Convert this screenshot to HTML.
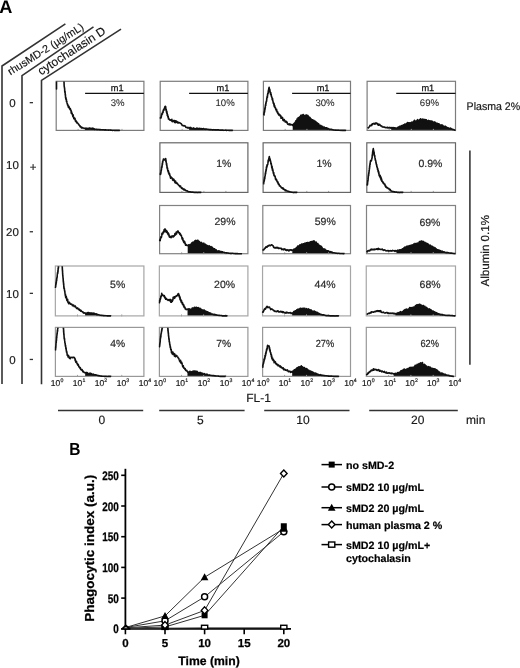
<!DOCTYPE html>
<html><head><meta charset="utf-8"><title>Figure</title>
<style>
html,body{margin:0;padding:0;background:#fff;width:520px;height:668px;overflow:hidden;}
svg{display:block;will-change:transform;}
text{font-family:"Liberation Sans",sans-serif;text-rendering:geometricPrecision;}
</style></head><body>
<svg width="520" height="668" viewBox="0 0 520 668">
<rect width="520" height="668" fill="#fff"/>
<text x="-0.7" y="12.7" font-size="18.2" font-weight="bold" fill="#000">A</text>
<polyline fill="none" stroke="#333" stroke-width="1.6" points="2,384 2,66 65.4,23.8"/>
<polyline fill="none" stroke="#333" stroke-width="1.6" points="22,384 22,75.6 93.5,26.9"/>
<polyline fill="none" stroke="#333" stroke-width="1.6" points="41.5,384.2 41.5,80.4 121,29.2"/>
<text transform="translate(10.5,75.5) rotate(-32.2)" font-size="10.75" fill="#111" stroke="#111" stroke-width="0.15">rhusMD-2 (µg/mL)</text>
<text transform="translate(41,75.6) rotate(-33)" font-size="12" fill="#111" stroke="#111" stroke-width="0.15">cytochalasin D</text>
<text x="12.4" y="106.8" font-size="11.5" text-anchor="middle" fill="#1a1a1a" stroke="#1a1a1a" stroke-width="0.18">0</text>
<rect x="29.7" y="102" width="3.3" height="1.3" fill="#333"/>
<text x="12.4" y="168.8" font-size="11.5" text-anchor="middle" fill="#1a1a1a" stroke="#1a1a1a" stroke-width="0.18">10</text>
<text x="33" y="170.8" font-size="11.5" text-anchor="middle" fill="#1a1a1a" stroke="#1a1a1a" stroke-width="0.18">+</text>
<text x="12.4" y="235.9" font-size="11.5" text-anchor="middle" fill="#1a1a1a" stroke="#1a1a1a" stroke-width="0.18">20</text>
<rect x="29.7" y="231.1" width="3.3" height="1.3" fill="#333"/>
<text x="12.4" y="297.5" font-size="11.5" text-anchor="middle" fill="#1a1a1a" stroke="#1a1a1a" stroke-width="0.18">10</text>
<rect x="29.7" y="292.7" width="3.3" height="1.3" fill="#333"/>
<text x="12.4" y="363.6" font-size="11.5" text-anchor="middle" fill="#1a1a1a" stroke="#1a1a1a" stroke-width="0.18">0</text>
<rect x="29.7" y="358.8" width="3.3" height="1.3" fill="#333"/>
<polygon fill="#111" points="85.1,130.4 85.1,128.14 85.1,128.14 85.6,128.84 86.1,128.2 86.6,128.87 87.09,128.37 87.59,128.49 88.09,128.7 88.59,128.51 89.09,128.11 89.59,128.11 90.08,128.23 90.58,128.22 91.08,128.2 91.53,128.66 91.99,128.86 92.44,128.11 92.89,128.66 93.35,128.42 93.8,129.11 94.25,128.81 94.7,129.39 95.16,129.22 95.61,129.18 96.06,129.4 96.52,129.27 96.97,129.37 97.42,129.58 97.88,129.38 98.33,129.51 98.78,129.5 99.23,129.51 99.69,129.67 100.14,129.52 100.59,129.69 101.05,129.7 101.5,129.8 101.95,129.7 102.41,129.84 102.86,129.72 103.31,129.78 103.76,129.82 104.22,129.91 104.67,129.95 105.12,129.74 105.58,129.77 106.03,129.9 106.48,129.93 106.94,130.04 107.39,129.98 107.84,129.93 108.29,130.15 108.75,129.97 109.2,129.93 109.65,129.95 110.11,129.96 110.56,130.19 111.01,130.03 111.47,130.24 111.92,130.3 112.37,130.37 112.82,130.33 113.28,130.24 113.73,130.32 114.18,130.4 114.64,130.4 115.09,130.29 115.54,130.4 116,130.4 116.49,130.31 116.99,130.39 117.49,130.4 117.99,130.4 118.49,130.4 118.99,130.4 119.48,130.4 119.98,130.6 119.98,130.4"/>
<line x1="78.12" y1="128.9" x2="78.12" y2="130.9" stroke="#a0a0a0" stroke-width="1"/>
<line x1="100.05" y1="128.9" x2="100.05" y2="130.9" stroke="#a0a0a0" stroke-width="1"/>
<line x1="121.98" y1="128.9" x2="121.98" y2="130.9" stroke="#a0a0a0" stroke-width="1"/>
<rect x="56.2" y="81.3" width="87.7" height="49.1" fill="none" stroke="#7c7c7c" stroke-width="1.2"/>
<clipPath id="c00"><rect x="55.2" y="81.6" width="89.7" height="51.1"/></clipPath>
<polyline clip-path="url(#c00)" fill="none" stroke="#111" stroke-width="1.6" stroke-linejoin="round" points="56.5,89.32 56.5,88.23 56.5,88.88 56.5,88.42 56.5,88.39 56.5,86.2 56.5,85.86 56.5,85.18 56.5,84.93 56.5,85.79 56.5,83.76 56.5,84.35 56.5,83.06 56.5,82.81 56.5,82.71 56.5,83.31 56.5,82.25 56.5,80.25 56.5,80.47 56.5,79.67 56.5,81.1 56.5,80.48 56.5,80.01 56.5,79.6 56.5,78.29 56.98,78.93 57.46,79.46 57.93,79.06 58.41,77.66 58.89,79.2 59.37,78.26 59.85,78.96 60.33,78.46 60.8,78.11 61.28,77.94 61.76,78.11 62.24,77.81 62.72,77.3 63.2,79.12 63.67,78.29 63.72,79.57 63.77,80.56 63.82,80.29 63.87,80.44 63.92,81.44 63.97,81.3 63.99,80.81 64.01,82.67 64.03,82.52 64.05,82.28 64.06,82.8 64.08,84.09 64.1,83.85 64.12,84.84 64.14,85.67 64.15,85.58 64.17,86.31 64.24,85.82 64.31,87.22 64.37,87.03 64.44,87.49 64.5,87.85 64.57,88.77 64.64,88.47 64.7,90.44 64.77,91.7 64.84,90.7 64.9,92.02 64.97,93.05 65.04,91.2 65.1,91.93 65.17,93.32 65.23,94.62 65.29,95.21 65.36,95.19 65.42,94.44 65.48,95.6 65.54,97.29 65.61,97.84 65.67,97.33 65.78,98.58 65.9,97.49 66.01,99.64 66.13,98.86 66.24,100.21 66.36,99.16 66.47,101.8 66.59,101.3 66.7,102.07 66.82,101.21 66.93,102.72 67.05,103.09 67.16,103.34 67.3,104.01 67.45,103.84 67.59,105.23 67.73,104.65 67.87,104.96 68.02,105.05 68.16,106.35 68.41,107.21 68.66,106.09 68.91,106.76 69.16,106.73 69.4,108.6 69.65,108.75 69.9,109.09 70.15,109.36 70.33,108.59 70.51,110.06 70.69,110.24 70.86,110.02 71.04,110.21 71.22,113.23 71.4,111.38 71.58,112.28 71.75,112.62 71.93,113.9 72.11,112.98 72.29,114.43 72.47,114.59 72.64,115.37 72.88,116.64 73.11,114.89 73.34,116.14 73.57,116.96 73.81,118.59 74.04,117.82 74.27,118.11 74.5,119 74.74,118.48 74.97,118.27 75.2,119.78 75.43,121.1 75.67,121.1 75.9,120.47 76.13,121.38 76.4,122.11 76.68,122.78 76.95,122.02 77.22,123 77.49,122.95 77.76,123.13 78.03,123.58 78.31,123.83 78.58,124.43 78.85,124.35 79.12,125.39 79.45,125.59 79.79,125.52 80.12,126.71 80.45,126.84 80.78,126.5 81.11,127.39 81.54,127.83 81.97,127.36 82.4,127.8 82.82,128.02 83.25,127.95 83.68,128.05 84.1,128.4 84.6,128.37 85.1,128.14 85.6,128.84 86.1,128.2 86.6,128.87 87.09,128.37 87.59,128.49 88.09,128.7 88.59,128.51 89.09,128.11 89.59,128.11 90.08,128.23 90.58,128.22 91.08,128.2 91.53,128.66 91.99,128.86 92.44,128.11 92.89,128.66 93.35,128.42 93.8,129.11 94.25,128.81 94.7,129.39 95.16,129.22 95.61,129.18 96.06,129.4 96.52,129.27 96.97,129.37 97.42,129.58 97.88,129.38 98.33,129.51 98.78,129.5 99.23,129.51 99.69,129.67 100.14,129.52 100.59,129.69 101.05,129.7 101.5,129.8 101.95,129.7 102.41,129.84 102.86,129.72 103.31,129.78 103.76,129.82 104.22,129.91 104.67,129.95 105.12,129.74 105.58,129.77 106.03,129.9 106.48,129.93 106.94,130.04 107.39,129.98 107.84,129.93 108.29,130.15 108.75,129.97 109.2,129.93 109.65,129.95 110.11,129.96 110.56,130.19 111.01,130.03 111.47,130.24 111.92,130.3 112.37,130.37 112.82,130.33 113.28,130.24 113.73,130.32 114.18,130.4 114.64,130.4 115.09,130.29 115.54,130.4 116,130.4 116.49,130.31 116.99,130.39 117.49,130.4 117.99,130.4 118.49,130.4 118.99,130.4 119.48,130.4 119.98,130.6"/>
<line x1="85.1" y1="93.3" x2="143.9" y2="93.3" stroke="#111" stroke-width="1.3"/>
<text x="117.2" y="90.9" font-size="9.2" text-anchor="middle" fill="#111" stroke="#111" stroke-width="0.25">m1</text>
<text x="117.7" y="105.8" font-size="9.6" text-anchor="middle" fill="#2a2a2a" stroke="#2a2a2a" stroke-width="0.1">3%</text>
<polygon fill="#111" points="189.1,130.4 189.1,127.94 189.43,127.88 189.9,127.49 190.36,127.75 190.83,127.51 191.29,128.22 191.76,128.45 192.22,128.42 192.69,128.66 193.15,128.49 193.62,127.91 194.08,128.4 194.54,128.81 195,128.83 195.46,128.86 195.92,128.73 196.38,128.21 196.84,128.71 197.3,128.72 197.76,128.2 198.21,129.02 198.67,129 199.13,128.94 199.59,128.36 200.05,128.42 200.51,128.74 200.97,128.75 201.43,128.58 201.89,128.96 202.35,128.75 202.8,128.9 203.26,128.65 203.72,128.62 204.18,129.21 204.64,129.14 205.1,129.38 205.56,129.1 206.02,128.89 206.48,129.1 206.93,129.25 207.39,129.24 207.85,129.24 208.31,129.42 208.77,129.44 209.23,129.55 209.69,129.66 210.15,129.44 210.61,129.58 211.07,129.53 211.52,129.7 211.98,129.8 212.44,129.88 212.9,129.82 213.36,129.91 213.82,129.67 214.28,129.76 214.74,129.87 215.2,129.86 215.66,129.72 216.11,129.8 216.57,129.94 217.03,129.89 217.49,129.91 217.95,129.81 218.41,129.84 218.87,129.99 219.33,130.05 219.79,130.16 220.24,130.14 220.7,130.1 221.16,130.19 221.62,129.98 222.08,130.06 222.54,130.27 223,130.1 223.46,130.33 223.92,130.17 224.38,130.24 224.83,130.32 225.29,130.24 225.75,130.16 226.21,130.34 226.67,130.33 227.13,130.28 227.59,130.23 228.05,130.23 228.51,130.29 228.96,130.4 229.46,130.38 229.96,130.4 230.46,130.4 230.96,130.4 231.46,130.4 231.95,130.4 232.45,130.4 232.95,130.6 232.95,130.4"/>
<line x1="182.12" y1="128.9" x2="182.12" y2="130.9" stroke="#a0a0a0" stroke-width="1"/>
<line x1="204.05" y1="128.9" x2="204.05" y2="130.9" stroke="#a0a0a0" stroke-width="1"/>
<line x1="225.98" y1="128.9" x2="225.98" y2="130.9" stroke="#a0a0a0" stroke-width="1"/>
<rect x="160.2" y="81.3" width="87.7" height="49.1" fill="none" stroke="#7c7c7c" stroke-width="1.2"/>
<clipPath id="c01"><rect x="159.2" y="81.6" width="89.7" height="51.1"/></clipPath>
<polyline clip-path="url(#c01)" fill="none" stroke="#111" stroke-width="1.6" stroke-linejoin="round" points="160.2,118.68 160.37,117.58 160.53,117.74 160.7,117.63 160.86,118.11 161.03,117.77 161.2,117.24 161.36,115.6 161.53,116 161.69,113.68 161.86,113.82 162.03,113.8 162.19,114.04 162.36,114.15 162.53,111.97 162.69,112.36 162.88,112.04 163.06,112.55 163.25,110.16 163.43,109.86 163.62,109.47 163.8,109.39 163.99,110.21 164.17,108.67 164.36,108.58 164.54,108.18 164.73,107.04 164.91,106.78 165.1,106.8 165.28,106.35 165.39,106.32 165.5,107.34 165.61,106.52 165.72,106.82 165.83,109.42 165.94,110 166.05,109.05 166.16,109.92 166.27,109.59 166.38,111.17 166.49,112.23 166.6,110.98 166.71,113.3 166.82,111.42 166.93,111.96 167.04,112.45 167.15,112.84 167.26,115.35 167.37,114.75 167.48,116.01 167.59,115.28 167.7,114.88 167.81,116.83 167.92,116.97 168.21,116.38 168.5,119.07 168.8,118.56 169.09,118.98 169.38,119.6 169.67,119.58 170.1,120.27 170.54,119.9 170.98,120.3 171.41,120.78 171.85,119.37 172.28,121.64 172.72,121.18 173.16,120.88 173.59,121.1 174.03,120.45 174.46,122.36 174.9,122.43 175.34,120.71 175.77,122.66 176.21,121.11 176.64,122.18 177.14,121.54 177.64,122.58 178.14,123.05 178.64,122.23 179.14,122.88 179.53,122.72 179.92,122.69 180.31,123.12 180.7,123.38 181.09,123.66 181.48,124.09 181.88,124.79 182.31,125.44 182.75,125.51 183.18,125.62 183.62,125.87 184.06,125.49 184.49,125.92 184.93,125.96 185.36,126.01 185.8,127.31 186.24,127.53 186.67,127.55 187.11,127.39 187.57,127.98 188.04,127.46 188.5,128.1 188.97,127.96 189.43,127.88 189.9,127.49 190.36,127.75 190.83,127.51 191.29,128.22 191.76,128.45 192.22,128.42 192.69,128.66 193.15,128.49 193.62,127.91 194.08,128.4 194.54,128.81 195,128.83 195.46,128.86 195.92,128.73 196.38,128.21 196.84,128.71 197.3,128.72 197.76,128.2 198.21,129.02 198.67,129 199.13,128.94 199.59,128.36 200.05,128.42 200.51,128.74 200.97,128.75 201.43,128.58 201.89,128.96 202.35,128.75 202.8,128.9 203.26,128.65 203.72,128.62 204.18,129.21 204.64,129.14 205.1,129.38 205.56,129.1 206.02,128.89 206.48,129.1 206.93,129.25 207.39,129.24 207.85,129.24 208.31,129.42 208.77,129.44 209.23,129.55 209.69,129.66 210.15,129.44 210.61,129.58 211.07,129.53 211.52,129.7 211.98,129.8 212.44,129.88 212.9,129.82 213.36,129.91 213.82,129.67 214.28,129.76 214.74,129.87 215.2,129.86 215.66,129.72 216.11,129.8 216.57,129.94 217.03,129.89 217.49,129.91 217.95,129.81 218.41,129.84 218.87,129.99 219.33,130.05 219.79,130.16 220.24,130.14 220.7,130.1 221.16,130.19 221.62,129.98 222.08,130.06 222.54,130.27 223,130.1 223.46,130.33 223.92,130.17 224.38,130.24 224.83,130.32 225.29,130.24 225.75,130.16 226.21,130.34 226.67,130.33 227.13,130.28 227.59,130.23 228.05,130.23 228.51,130.29 228.96,130.4 229.46,130.38 229.96,130.4 230.46,130.4 230.96,130.4 231.46,130.4 231.95,130.4 232.45,130.4 232.95,130.6"/>
<line x1="189.1" y1="93.3" x2="247.9" y2="93.3" stroke="#111" stroke-width="1.3"/>
<text x="222.9" y="90.9" font-size="9.2" text-anchor="middle" fill="#111" stroke="#111" stroke-width="0.25">m1</text>
<text x="225.1" y="105.7" font-size="9.6" text-anchor="middle" fill="#2a2a2a" stroke="#2a2a2a" stroke-width="0.1">10%</text>
<polygon fill="#111" points="292.7,130.4 292.7,125.39 292.7,125.39 292.99,124.67 293.28,124.51 293.57,123.93 293.86,123.83 294.15,123.29 294.45,123.42 294.74,123.16 295.03,122.76 295.32,122.18 295.61,121.6 295.9,120.76 296.19,120.72 296.47,120.9 296.76,121.4 297.05,119.03 297.34,118.89 297.63,119.87 297.92,119.34 298.21,117.5 298.5,117.78 298.78,117.77 299.11,117.87 299.44,118 299.77,116.74 300.1,117.6 300.42,117.23 300.75,115.39 301.08,116.62 301.41,115.17 301.84,116.21 302.27,115.26 302.69,115.06 303.12,114.49 303.55,115.17 303.98,116.07 304.48,115.51 304.97,116.2 305.47,115.7 305.96,115.11 306.46,114.94 306.95,115.37 307.44,116.07 307.79,115.51 308.14,115.97 308.48,117.52 308.83,117.87 309.18,117.17 309.52,118.09 309.87,117.39 310.22,118.35 310.56,119.41 310.91,119.58 311.34,119.13 311.78,120.62 312.21,120.58 312.64,119.73 313.07,120.75 313.51,120.68 313.94,120.38 314.37,121.38 314.76,122.33 315.14,122.8 315.53,121.36 315.91,121.87 316.3,122.1 316.68,123.59 317.07,122.82 317.45,124.07 317.84,123.99 318.24,123.59 318.64,123.82 319.04,124.89 319.44,125.55 319.84,125.73 320.24,125.6 320.64,125.3 321.04,125.64 321.43,126.31 321.83,126.49 322.23,126.75 322.63,126.34 323.03,127.09 323.47,127.74 323.9,127.54 324.33,127.12 324.77,127.68 325.2,128.11 325.63,127.73 326.06,127.71 326.5,127.83 326.93,128.78 327.36,128.35 327.8,128.36 328.23,128.9 328.69,128.73 329.15,129.33 329.62,129.5 330.08,129.27 330.54,129.33 331,129.24 331.46,129.35 331.93,129.47 332.39,129.69 332.85,129.7 333.31,129.87 333.77,129.94 334.23,129.94 334.7,129.99 335.16,130.1 335.62,130.11 336.08,130.15 336.54,130.16 337.01,130.32 337.47,130.14 337.93,130.24 338.39,130.13 338.85,130.2 339.32,130.22 339.78,130.29 340.24,130.4 340.7,130.32 341.16,130.29 341.63,130.36 342.09,130.4 342.58,130.4 343.08,130.4 343.57,130.4 344.07,130.4 344.56,130.4 345.06,130.4 345.55,130.4 346.05,130.6 346.05,130.4"/>
<line x1="285.17" y1="128.9" x2="285.17" y2="130.9" stroke="#a0a0a0" stroke-width="1"/>
<line x1="306.95" y1="128.9" x2="306.95" y2="130.9" stroke="#a0a0a0" stroke-width="1"/>
<line x1="328.73" y1="128.9" x2="328.73" y2="130.9" stroke="#a0a0a0" stroke-width="1"/>
<rect x="263.4" y="81.3" width="87.1" height="49.1" fill="none" stroke="#7c7c7c" stroke-width="1.2"/>
<clipPath id="c02"><rect x="262.4" y="81.6" width="89.1" height="51.1"/></clipPath>
<polyline clip-path="url(#c02)" fill="none" stroke="#111" stroke-width="1.6" stroke-linejoin="round" points="263.8,115.17 263.88,114.47 263.96,113.13 264.04,115.08 264.13,112.64 264.21,112.04 264.29,112.52 264.38,112.65 264.46,111.29 264.54,112.04 264.63,110.66 264.71,111.12 264.79,108.57 264.88,109.49 264.96,109.8 265.04,107.85 265.12,107.12 265.21,107.8 265.29,107.94 265.37,105.57 265.46,105.29 265.54,104.52 265.62,104.37 265.71,103.75 265.79,105.57 265.87,102.74 265.95,103.71 266.04,102.86 266.12,102.93 266.2,101.57 266.29,101.82 266.37,101.34 266.46,100.86 266.54,101.43 266.63,100.99 266.72,98.58 266.81,99.45 266.89,98.43 266.98,97.38 267.07,96.82 267.16,96.29 267.24,97.61 267.33,97.37 267.42,97.12 267.51,94.99 267.59,94.28 267.68,95.3 267.77,93.34 267.86,93.21 267.94,93.27 268.03,93.7 268.12,93.43 268.21,92.2 268.29,90.87 268.38,91.55 268.47,90.89 268.56,90.4 268.64,89.63 268.73,89.06 268.82,88.28 268.9,88.81 268.99,88.01 269.12,87.26 269.26,89.9 269.39,88.14 269.52,88.91 269.66,89.58 269.79,90.18 269.92,89.82 270.05,92.78 270.19,91.81 270.32,92.22 270.45,92.72 270.58,94.52 270.72,92.44 270.85,93.29 270.98,95.11 271.12,95.29 271.25,94.5 271.38,96.35 271.51,96.82 271.65,96.89 271.78,96.76 271.91,97.63 272.04,97.72 272.17,99.35 272.31,99.68 272.44,99.94 272.57,98.59 272.7,101.02 272.83,100.47 272.96,101.5 273.09,101.48 273.22,103.15 273.35,102.74 273.49,103.18 273.62,103.52 273.75,102.93 273.88,104.58 274.01,105.5 274.14,103.84 274.27,106.67 274.4,105.34 274.53,106.35 274.74,105.71 274.94,107.47 275.15,107.92 275.35,107.38 275.55,108.4 275.76,109.24 275.96,109.26 276.17,109.91 276.37,110.88 276.57,109.37 276.78,110.88 276.98,111.11 277.18,112.14 277.39,112.55 277.59,113.05 277.8,112.05 278,113.37 278.3,114.15 278.61,114.4 278.92,115.05 279.22,114.15 279.53,114.52 279.83,115 280.14,115.84 280.44,116.46 280.75,115.68 281.06,118.29 281.36,117.32 281.67,117.38 281.97,117.16 282.28,118.19 282.58,117.76 282.89,120.27 283.2,119.58 283.54,120.66 283.89,119.69 284.23,119.5 284.58,120.74 284.93,120.83 285.27,122.01 285.62,121.62 285.97,121.13 286.31,122.35 286.66,121.86 287.01,121.92 287.35,123.22 287.7,124.09 288.05,124.32 288.39,123.99 288.82,124.05 289.25,124.82 289.68,123.9 290.11,123.98 290.54,124.83 290.98,124.85 291.41,124.82 291.84,124.48 292.27,124.88 292.7,125.39 292.99,124.67 293.28,124.51 293.57,123.93 293.86,123.83 294.15,123.29 294.45,123.42 294.74,123.16 295.03,122.76 295.32,122.18 295.61,121.6 295.9,120.76 296.19,120.72 296.47,120.9 296.76,121.4 297.05,119.03 297.34,118.89 297.63,119.87 297.92,119.34 298.21,117.5 298.5,117.78 298.78,117.77 299.11,117.87 299.44,118 299.77,116.74 300.1,117.6 300.42,117.23 300.75,115.39 301.08,116.62 301.41,115.17 301.84,116.21 302.27,115.26 302.69,115.06 303.12,114.49 303.55,115.17 303.98,116.07 304.48,115.51 304.97,116.2 305.47,115.7 305.96,115.11 306.46,114.94 306.95,115.37 307.44,116.07 307.79,115.51 308.14,115.97 308.48,117.52 308.83,117.87 309.18,117.17 309.52,118.09 309.87,117.39 310.22,118.35 310.56,119.41 310.91,119.58 311.34,119.13 311.78,120.62 312.21,120.58 312.64,119.73 313.07,120.75 313.51,120.68 313.94,120.38 314.37,121.38 314.76,122.33 315.14,122.8 315.53,121.36 315.91,121.87 316.3,122.1 316.68,123.59 317.07,122.82 317.45,124.07 317.84,123.99 318.24,123.59 318.64,123.82 319.04,124.89 319.44,125.55 319.84,125.73 320.24,125.6 320.64,125.3 321.04,125.64 321.43,126.31 321.83,126.49 322.23,126.75 322.63,126.34 323.03,127.09 323.47,127.74 323.9,127.54 324.33,127.12 324.77,127.68 325.2,128.11 325.63,127.73 326.06,127.71 326.5,127.83 326.93,128.78 327.36,128.35 327.8,128.36 328.23,128.9 328.69,128.73 329.15,129.33 329.62,129.5 330.08,129.27 330.54,129.33 331,129.24 331.46,129.35 331.93,129.47 332.39,129.69 332.85,129.7 333.31,129.87 333.77,129.94 334.23,129.94 334.7,129.99 335.16,130.1 335.62,130.11 336.08,130.15 336.54,130.16 337.01,130.32 337.47,130.14 337.93,130.24 338.39,130.13 338.85,130.2 339.32,130.22 339.78,130.29 340.24,130.4 340.7,130.32 341.16,130.29 341.63,130.36 342.09,130.4 342.58,130.4 343.08,130.4 343.57,130.4 344.07,130.4 344.56,130.4 345.06,130.4 345.55,130.4 346.05,130.6"/>
<line x1="292.1" y1="93.3" x2="350.5" y2="93.3" stroke="#111" stroke-width="1.3"/>
<text x="323.1" y="90.9" font-size="9.2" text-anchor="middle" fill="#111" stroke="#111" stroke-width="0.25">m1</text>
<text x="325" y="105.8" font-size="9.6" text-anchor="middle" fill="#2a2a2a" stroke="#2a2a2a" stroke-width="0.1">30%</text>
<polygon fill="#111" points="391.21,130.4 391.21,128.2 391.27,128.21 391.73,127.55 392.2,127.51 392.66,128.06 393.12,128.19 393.59,127.62 394.05,128.04 394.52,127.8 394.98,127.96 395.44,128.07 395.91,127.86 396.37,128.4 396.83,128.3 397.28,128.37 397.72,127.54 398.16,127.17 398.6,127.72 399.04,126.86 399.49,126.72 399.93,126.2 400.37,126.91 400.81,126.17 401.25,126.09 401.69,125.64 402.13,126.21 402.57,126.09 403.01,125.17 403.45,124.79 403.89,125.48 404.33,125.31 404.77,124.12 405.21,124.33 405.65,124.48 406.09,123.94 406.53,123.59 406.97,124.18 407.41,122.49 407.85,123.78 408.29,122.84 408.73,123.85 409.17,122.77 409.6,122.99 410.04,123.13 410.48,122.81 410.92,123.1 411.36,122.45 411.8,122.18 412.24,122.81 412.68,122.27 413.12,122.09 413.56,121.39 414,121.36 414.44,120.3 414.88,122.02 415.32,121.59 415.76,121.18 416.2,121.03 416.64,121.19 417.08,120.38 417.56,119.6 418.05,120.38 418.53,121.06 419.02,121.1 419.5,119.75 419.99,120.36 420.47,118.84 420.96,119.56 421.45,119.58 421.89,119.58 422.33,119.07 422.77,120.84 423.21,121.11 423.66,119.38 424.1,120.77 424.54,119.58 424.98,119.96 425.42,119.7 425.87,120.78 426.33,119.83 426.8,120.67 427.27,120.85 427.74,121.31 428.21,121.83 428.68,120.39 429.15,121.24 429.62,122.25 430.08,120.88 430.55,122.59 431.02,122.3 431.49,121.03 431.96,121.05 432.43,122.34 432.9,122.18 433.34,122.89 433.78,122.15 434.22,121.91 434.66,123.15 435.1,122.28 435.53,123.83 435.97,122.99 436.41,123.5 436.85,124.45 437.29,123.35 437.73,123.67 438.17,124.17 438.61,123.84 439.05,123.91 439.49,125.23 439.93,124.79 440.37,125.45 440.81,125.56 441.25,124.95 441.69,126 442.13,124.96 442.57,125.14 443.01,125.95 443.45,126.15 443.88,126.52 444.32,126.8 444.76,127.16 445.2,126.2 445.64,127.13 446.08,126.92 446.52,127.04 446.96,127.39 447.4,127.6 447.84,128.02 448.28,127.87 448.72,128.43 449.16,128.24 449.6,128.64 450.04,128.41 450.48,128.11 450.92,128.57 451.36,128.74 451.8,129.16 452.24,129.42 452.67,129.26 453.11,129.4 453.55,129.59 453.99,129.7 454.5,130 455,130.23 455.5,130.4 455.5,130.4"/>
<line x1="389.2" y1="128.9" x2="389.2" y2="130.9" stroke="#a0a0a0" stroke-width="1"/>
<line x1="411.3" y1="128.9" x2="411.3" y2="130.9" stroke="#a0a0a0" stroke-width="1"/>
<line x1="433.4" y1="128.9" x2="433.4" y2="130.9" stroke="#a0a0a0" stroke-width="1"/>
<rect x="367.1" y="81.3" width="88.4" height="49.1" fill="none" stroke="#7c7c7c" stroke-width="1.2"/>
<clipPath id="c03"><rect x="366.1" y="81.6" width="90.4" height="51.1"/></clipPath>
<polyline clip-path="url(#c03)" fill="none" stroke="#111" stroke-width="1.6" stroke-linejoin="round" points="367.6,128.3 367.94,127.93 368.29,128.03 368.63,127.57 368.97,127.15 369.31,126.79 369.66,126.28 370,125.43 370.34,125.66 370.68,125.8 371.03,125.51 371.37,124.79 371.81,125.28 372.24,123.85 372.68,124.26 373.12,123.64 373.55,123.68 373.99,123.37 374.43,123.99 374.87,124.1 375.3,122.98 375.74,123.59 376.18,123.01 376.62,123.08 377.06,123.34 377.5,124.46 377.94,123.71 378.38,125.23 378.82,125.14 379.25,124.79 379.66,124.28 380.06,125.01 380.46,125.64 380.86,126.05 381.26,126.06 381.67,125.91 382.07,126.68 382.47,127.03 382.87,126.98 383.27,126.92 383.68,127.09 384.15,127.36 384.63,127.06 385.11,127.34 385.59,127.73 386.07,127.8 386.55,127.69 387.03,127.25 387.51,127.23 387.99,128.07 388.47,127.66 388.95,127.79 389.41,127.9 389.88,127.36 390.34,127.75 390.8,128.16 391.27,128.21 391.73,127.55 392.2,127.51 392.66,128.06 393.12,128.19 393.59,127.62 394.05,128.04 394.52,127.8 394.98,127.96 395.44,128.07 395.91,127.86 396.37,128.4 396.83,128.3 397.28,128.37 397.72,127.54 398.16,127.17 398.6,127.72 399.04,126.86 399.49,126.72 399.93,126.2 400.37,126.91 400.81,126.17 401.25,126.09 401.69,125.64 402.13,126.21 402.57,126.09 403.01,125.17 403.45,124.79 403.89,125.48 404.33,125.31 404.77,124.12 405.21,124.33 405.65,124.48 406.09,123.94 406.53,123.59 406.97,124.18 407.41,122.49 407.85,123.78 408.29,122.84 408.73,123.85 409.17,122.77 409.6,122.99 410.04,123.13 410.48,122.81 410.92,123.1 411.36,122.45 411.8,122.18 412.24,122.81 412.68,122.27 413.12,122.09 413.56,121.39 414,121.36 414.44,120.3 414.88,122.02 415.32,121.59 415.76,121.18 416.2,121.03 416.64,121.19 417.08,120.38 417.56,119.6 418.05,120.38 418.53,121.06 419.02,121.1 419.5,119.75 419.99,120.36 420.47,118.84 420.96,119.56 421.45,119.58 421.89,119.58 422.33,119.07 422.77,120.84 423.21,121.11 423.66,119.38 424.1,120.77 424.54,119.58 424.98,119.96 425.42,119.7 425.87,120.78 426.33,119.83 426.8,120.67 427.27,120.85 427.74,121.31 428.21,121.83 428.68,120.39 429.15,121.24 429.62,122.25 430.08,120.88 430.55,122.59 431.02,122.3 431.49,121.03 431.96,121.05 432.43,122.34 432.9,122.18 433.34,122.89 433.78,122.15 434.22,121.91 434.66,123.15 435.1,122.28 435.53,123.83 435.97,122.99 436.41,123.5 436.85,124.45 437.29,123.35 437.73,123.67 438.17,124.17 438.61,123.84 439.05,123.91 439.49,125.23 439.93,124.79 440.37,125.45 440.81,125.56 441.25,124.95 441.69,126 442.13,124.96 442.57,125.14 443.01,125.95 443.45,126.15 443.88,126.52 444.32,126.8 444.76,127.16 445.2,126.2 445.64,127.13 446.08,126.92 446.52,127.04 446.96,127.39 447.4,127.6 447.84,128.02 448.28,127.87 448.72,128.43 449.16,128.24 449.6,128.64 450.04,128.41 450.48,128.11 450.92,128.57 451.36,128.74 451.8,129.16 452.24,129.42 452.67,129.26 453.11,129.4 453.55,129.59 453.99,129.7 454.5,130 455,130.23 455.5,130.4"/>
<line x1="396.23" y1="93.3" x2="455.5" y2="93.3" stroke="#111" stroke-width="1.3"/>
<text x="427.8" y="90.9" font-size="9.2" text-anchor="middle" fill="#111" stroke="#111" stroke-width="0.25">m1</text>
<text x="429.4" y="105.8" font-size="9.6" text-anchor="middle" fill="#2a2a2a" stroke="#2a2a2a" stroke-width="0.1">69%</text>
<line x1="181.9" y1="190.9" x2="181.9" y2="192.9" stroke="#a0a0a0" stroke-width="1"/>
<line x1="203.9" y1="190.9" x2="203.9" y2="192.9" stroke="#a0a0a0" stroke-width="1"/>
<line x1="225.9" y1="190.9" x2="225.9" y2="192.9" stroke="#a0a0a0" stroke-width="1"/>
<rect x="159.9" y="142.8" width="88" height="49.6" fill="none" stroke="#666666" stroke-width="1.2"/>
<clipPath id="c11"><rect x="158.9" y="143.1" width="90" height="51.6"/></clipPath>
<polyline clip-path="url(#c11)" fill="none" stroke="#111" stroke-width="1.6" stroke-linejoin="round" points="160.3,174.94 160.38,173.29 160.47,173.37 160.55,174.54 160.64,172.87 160.72,173.78 160.8,173.47 160.89,172.49 160.97,172.12 161.05,170.34 161.14,170.71 161.22,170.97 161.31,170.07 161.39,168.94 161.47,169.64 161.56,167.13 161.64,167.66 161.73,167.82 161.81,166.59 161.89,167.69 161.98,166.77 162.06,165.19 162.15,166.11 162.23,164.14 162.31,163.22 162.4,163.73 162.48,164.52 162.56,162.76 162.65,161.35 162.73,162.13 162.82,162.09 162.9,161.02 163.15,160.42 163.4,159.03 163.65,160.03 163.9,159.12 164.15,159 164.62,159.91 165.08,159.51 165.55,159 165.64,159.6 165.72,158.65 165.81,161.6 165.9,159.74 165.99,160.12 166.07,161.91 166.16,161.65 166.25,163.02 166.34,163.07 166.42,164.58 166.51,163.2 166.6,163.13 166.69,165.67 166.77,164.48 166.86,165.16 166.95,167.16 167.04,167.81 167.12,166.82 167.21,168.47 167.3,168.9 167.39,167.96 167.47,168.7 167.56,168.07 167.65,169.62 167.82,171.02 167.98,171.21 168.15,170.55 168.31,170.58 168.48,173.07 168.64,173.02 168.81,172 168.97,173.51 169.14,174.41 169.31,174.22 169.47,174.6 169.64,173.7 169.8,175.59 169.97,175.36 170.13,176.03 170.3,176.71 170.63,178.26 170.97,176.8 171.3,177.52 171.64,177.64 171.97,178.04 172.31,178.25 172.64,180.02 172.98,179.54 173.31,180.49 173.65,179.12 173.98,179.76 174.32,180.04 174.65,181.16 174.97,182.58 175.29,181.38 175.6,181.19 175.92,183.1 176.24,182.8 176.56,182.8 176.88,183.22 177.2,183.82 177.51,183.47 177.83,184.14 178.15,184.71 178.5,184.94 178.85,185.26 179.2,185.93 179.55,185.82 179.9,186.77 180.25,186.1 180.6,186.02 180.95,187 181.3,187.86 181.65,188.26 182,188.51 182.35,187.97 182.7,188.99 183.05,188.62 183.4,189.11 183.8,189.79 184.21,189.16 184.61,189.92 185.02,189.69 185.42,190.41 185.82,190.72 186.23,190.47 186.63,190.86 187.03,190.79 187.44,190.94 187.84,191.33 188.25,191.58 188.65,191.79 189.11,191.71 189.57,191.79 190.03,191.84 190.49,191.83 190.95,192.12 191.41,192.01 191.87,192.2 192.33,192.11 192.79,192.12 193.26,192.16 193.72,192.4 194.18,192.34 194.64,192.38 195.1,192.4 195.56,192.4 196.02,192.4 196.48,192.4 196.94,192.4 197.4,192.65 197.9,192.4 198.4,192.4 198.9,192.4 199.4,192.4 199.9,192.4 200.4,192.4 200.9,192.4 201.4,192.6"/>
<text x="223.75" y="166.9" font-size="10.5" text-anchor="middle" fill="#2a2a2a" stroke="#2a2a2a" stroke-width="0.2">1%</text>
<line x1="284.95" y1="190.9" x2="284.95" y2="192.9" stroke="#a0a0a0" stroke-width="1"/>
<line x1="306.8" y1="190.9" x2="306.8" y2="192.9" stroke="#a0a0a0" stroke-width="1"/>
<line x1="328.65" y1="190.9" x2="328.65" y2="192.9" stroke="#a0a0a0" stroke-width="1"/>
<rect x="263.1" y="142.8" width="87.4" height="49.6" fill="none" stroke="#666666" stroke-width="1.2"/>
<clipPath id="c12"><rect x="262.1" y="143.1" width="89.4" height="51.6"/></clipPath>
<polyline clip-path="url(#c12)" fill="none" stroke="#111" stroke-width="1.6" stroke-linejoin="round" points="263.6,183.8 263.68,183.84 263.76,182.25 263.84,182 263.92,182.34 264,180.49 264.08,181.66 264.16,179.64 264.24,180.74 264.32,179.14 264.4,180.15 264.48,177.87 264.56,178.14 264.64,177.27 264.72,178.84 264.8,178.08 264.88,177.23 264.96,176.33 265.04,175.97 265.12,176.07 265.2,175.67 265.28,173.6 265.36,174.99 265.44,174.17 265.52,172.67 265.6,171.91 265.68,173.43 265.76,171.69 265.84,171.75 265.92,170.8 266,169.51 266.08,171.3 266.16,169.75 266.24,170.07 266.32,169.6 266.4,167.36 266.48,167.85 266.6,166.43 266.72,167.86 266.84,167.33 266.97,164.93 267.09,166.41 267.21,165.37 267.33,164.73 267.45,164.55 267.58,164.24 267.7,164.56 267.82,163.67 267.94,163.18 268.06,161.85 268.19,160.4 268.31,162.07 268.43,159.69 268.55,159.81 268.67,160.42 268.8,159.14 268.92,157.91 269.04,157.76 269.16,159 269.28,156.5 269.41,157.22 269.52,157.77 269.63,159.38 269.74,159.3 269.85,159.14 269.97,158.74 270.08,159.2 270.19,160.83 270.3,159.87 270.41,160.71 270.52,161.6 270.64,161.31 270.75,162.28 270.86,163.93 270.97,162.82 271.08,163.21 271.19,163.43 271.31,163.86 271.42,164.73 271.53,165.58 271.64,166.08 271.76,167.64 271.88,166.06 272,168.51 272.12,166.65 272.24,169.16 272.36,169.97 272.48,170.4 272.6,169.27 272.72,169.04 272.84,170.05 272.96,170.29 273.08,171.28 273.2,172.4 273.32,172.66 273.44,173.55 273.56,172.91 273.68,172.46 273.79,173.03 273.91,174.79 274.03,175.57 274.15,175.11 274.27,175.8 274.48,175.28 274.68,175.65 274.89,176.7 275.09,176.21 275.3,177.58 275.5,179.26 275.7,178.38 275.91,178.82 276.11,179.48 276.32,180.4 276.52,179.44 276.73,180.56 276.93,180.74 277.14,181.78 277.34,181.98 277.54,181.45 277.75,182.88 278.04,182.3 278.33,184.1 278.62,184.06 278.91,183.85 279.2,185.09 279.49,185.96 279.78,185.87 280.07,185.85 280.36,186.09 280.65,186.42 280.94,187.05 281.23,187.34 281.6,188.01 281.97,187.85 282.34,188.15 282.72,187.74 283.09,189.17 283.46,188.32 283.83,189.19 284.21,189.55 284.58,190.01 284.95,189.85 285.32,189.8 285.69,190.76 286.07,190.24 286.44,190.88 286.9,190.91 287.37,191.06 287.83,191.29 288.29,191.39 288.76,191.36 289.22,191.6 289.68,191.74 290.15,191.89 290.61,191.93 291.07,192.02 291.54,192.3 292,192.22 292.47,192.3 292.93,192.4 293.39,192.65 293.89,192.4 294.39,192.4 294.88,192.4 295.38,192.4 295.87,192.4 296.37,192.4 296.87,192.4 297.36,192.6"/>
<text x="324.1" y="166.9" font-size="10.5" text-anchor="middle" fill="#2a2a2a" stroke="#2a2a2a" stroke-width="0.2">1%</text>
<line x1="388.98" y1="190.9" x2="388.98" y2="192.9" stroke="#a0a0a0" stroke-width="1"/>
<line x1="411.15" y1="190.9" x2="411.15" y2="192.9" stroke="#a0a0a0" stroke-width="1"/>
<line x1="433.32" y1="190.9" x2="433.32" y2="192.9" stroke="#a0a0a0" stroke-width="1"/>
<rect x="366.8" y="142.8" width="88.7" height="49.6" fill="none" stroke="#666666" stroke-width="1.2"/>
<clipPath id="c13"><rect x="365.8" y="143.1" width="90.7" height="51.6"/></clipPath>
<polyline clip-path="url(#c13)" fill="none" stroke="#111" stroke-width="1.6" stroke-linejoin="round" points="367.2,185.57 367.26,184.66 367.32,184.18 367.38,185.07 367.44,183.6 367.5,184.29 367.56,183.74 367.62,182.29 367.68,182.24 367.74,180.57 367.8,180.58 367.86,180.51 367.91,181.27 367.97,180.65 368.03,180.18 368.09,179.48 368.15,178.68 368.21,176.64 368.27,177.45 368.33,176.73 368.39,175.66 368.45,174.89 368.51,174.62 368.57,174.97 368.63,175.65 368.69,175.08 368.74,172.78 368.8,172.89 368.86,173.77 368.92,172.84 368.98,172.22 369.04,172.19 369.1,170.32 369.16,170.05 369.22,171.02 369.28,169.6 369.34,169.39 369.4,168.13 369.46,168.89 369.52,168.72 369.57,167.57 369.63,165.91 369.69,166.27 369.75,167 369.81,164.72 369.87,165.23 369.93,164.77 369.99,164.05 370.05,163.31 370.11,164.71 370.17,163.17 370.23,162.54 370.4,161.48 370.57,160.52 370.74,161.2 370.91,160.45 371.08,160.17 371.26,160.94 371.43,160.61 371.6,159.75 371.77,159.15 371.94,158.08 372.01,157.99 372.07,157.96 372.14,157.74 372.21,155.51 372.27,154.8 372.34,155.56 372.4,156 372.47,153.69 372.54,154.7 372.6,152.38 372.67,154.03 372.74,151.23 372.8,152.7 372.87,150.46 372.94,150.56 373,151 373.07,149.71 373.13,149.28 373.2,149.28 373.3,148.64 373.4,149.78 373.5,151.67 373.6,150.07 373.7,152.07 373.81,152.93 373.91,151.85 374.01,153.04 374.11,152.08 374.21,153.56 374.31,155.17 374.41,155 374.51,155.81 374.61,155.45 374.7,155.83 374.79,156.08 374.88,157.16 374.96,157.76 375.05,158.47 375.14,158.16 375.23,159.65 375.32,159.63 375.41,160.54 375.49,159.88 375.58,160.04 375.67,160.21 375.76,161.42 375.85,161.32 375.93,163.01 376.02,163.03 376.11,162.61 376.2,164.16 376.29,163.75 376.38,164.31 376.49,164.3 376.61,165.34 376.73,164.89 376.85,167.04 376.97,166.66 377.09,166.75 377.21,167.53 377.33,167.94 377.45,167.93 377.57,169.61 377.69,168.33 377.81,169.41 377.92,169.67 378.04,170.94 378.16,171.77 378.28,170.58 378.4,172.22 378.52,171.53 378.64,171.64 378.76,173.86 378.88,172.43 379,174.08 379.18,175.74 379.37,175.37 379.55,176.3 379.74,176.5 379.92,176.98 380.11,175.37 380.3,176.08 380.48,178.18 380.67,176.63 380.85,178.73 381.04,179.84 381.22,177.83 381.41,178.99 381.6,178.97 381.78,181.12 381.97,180.18 382.15,180.97 382.34,181.62 382.52,182.02 382.82,181.72 383.12,183.11 383.41,182.55 383.71,183.21 384,183.83 384.3,184.33 384.59,184.66 384.89,184.2 385.19,185.72 385.48,186.63 385.78,185.9 386.07,187.3 386.37,186.81 386.66,187.74 386.96,187.69 387.34,187.55 387.72,187.96 388.09,188.46 388.47,188.38 388.85,188.56 389.23,189.4 389.6,189.85 389.98,189.35 390.36,189.83 390.74,190.78 391.12,191.02 391.49,191.08 391.87,191.28 392.25,191.39 392.72,191.5 393.19,191.48 393.66,191.72 394.13,191.85 394.6,191.8 395.07,191.95 395.54,191.96 396.01,192.21 396.48,192.03 396.95,192.3 397.43,192.38 397.9,192.28 398.37,192.4 398.84,192.4 399.31,192.65 399.81,192.4 400.31,192.4 400.82,192.4 401.32,192.4 401.83,192.4 402.33,192.4 402.83,192.4 403.34,192.6"/>
<text x="430.4" y="166.8" font-size="10.5" text-anchor="middle" fill="#2a2a2a" stroke="#2a2a2a" stroke-width="0.2">0.9%</text>
<polygon fill="#111" points="187.7,253.7 187.7,245.4 188.03,245.26 188.47,244.75 188.91,245.26 189.35,245.65 189.79,244.62 190.23,244.43 190.67,245.04 191.11,244.55 191.48,244.04 191.85,242.91 192.23,243.65 192.6,244.32 192.97,242.15 193.34,242.15 193.72,242.39 194.09,243.02 194.46,242.38 194.83,240.91 195.21,240.92 195.58,240.31 195.95,240.89 196.32,240.62 196.73,241.79 197.13,241.75 197.53,240.21 197.93,240.35 198.33,241.08 198.73,241.33 199.13,241.31 199.54,242 199.94,242.47 200.34,243.14 200.74,242.88 201.18,242.44 201.62,243.04 202.06,244.35 202.5,243.45 202.93,244.07 203.37,243.92 203.81,243.18 204.25,245.09 204.69,244.33 205.13,244.13 205.57,244.87 206.01,245.09 206.45,245.13 206.89,245.21 207.32,246.36 207.76,245.83 208.2,246.1 208.64,246.89 209.08,245.71 209.52,246.32 209.91,247.23 210.3,246.84 210.69,247.11 211.08,246.54 211.47,248.12 211.86,247.45 212.25,247.36 212.64,247.79 213.03,248.54 213.43,248.94 213.83,248.79 214.22,248.68 214.62,248.84 215.02,249.43 215.41,249.98 215.81,250.14 216.21,249.86 216.6,251.02 217,251.14 217.4,250.95 217.84,251.14 218.28,251.37 218.72,250.78 219.16,251.78 219.6,251.03 220.04,251.68 220.48,251.96 220.92,251.86 221.36,251.48 221.8,252.32 222.24,251.74 222.69,252.34 223.13,252.26 223.57,252.32 224.05,252.29 224.53,252.66 225,252.7 225.48,252.73 225.96,252.74 226.44,252.9 226.92,252.79 227.4,253.07 227.88,253.04 228.36,253 228.84,253.21 229.29,253.18 229.74,253.26 230.19,253.34 230.64,253.28 231.09,253.35 231.54,253.43 232,253.29 232.45,253.3 232.9,253.31 233.35,253.43 233.8,253.52 234.25,253.54 234.71,253.54 235.16,253.69 235.61,253.56 236.06,253.51 236.51,253.65 236.96,253.69 237.41,253.53 237.87,253.7 238.37,253.7 238.87,253.7 239.37,253.7 239.87,253.7 240.37,253.7 240.88,253.7 241.38,253.7 241.88,253.9 241.88,253.7"/>
<line x1="181.68" y1="252.2" x2="181.68" y2="254.2" stroke="#a0a0a0" stroke-width="1"/>
<line x1="203.75" y1="252.2" x2="203.75" y2="254.2" stroke="#a0a0a0" stroke-width="1"/>
<line x1="225.82" y1="252.2" x2="225.82" y2="254.2" stroke="#a0a0a0" stroke-width="1"/>
<rect x="159.6" y="205.5" width="88.3" height="48.2" fill="none" stroke="#828282" stroke-width="1.2"/>
<clipPath id="c21"><rect x="158.6" y="205.8" width="90.3" height="50.2"/></clipPath>
<polyline clip-path="url(#c21)" fill="none" stroke="#111" stroke-width="1.6" stroke-linejoin="round" points="159.6,241.11 159.76,239.78 159.91,240.73 160.07,240 160.23,240.5 160.38,238.78 160.54,238.04 160.7,238.17 160.85,237.61 161.01,236.49 161.17,237.21 161.32,237.53 161.48,236.94 161.64,236.11 161.79,235.42 161.95,233.37 162.11,234.22 162.35,233.03 162.58,233.82 162.82,233.84 163.06,232.16 163.29,232.22 163.53,231.7 163.77,232.47 164.01,230.28 164.24,229.46 164.48,230.37 164.72,229.6 165.05,228.9 165.38,231.53 165.71,231.3 166.05,230.27 166.38,232.37 166.71,230.88 167.04,231.32 167.38,232.55 167.62,232.55 167.86,234.17 168.1,232.8 168.34,234.8 168.59,234.61 168.83,233.94 169.07,236.06 169.31,236.79 169.55,237.24 169.79,236.08 170.04,236.83 170.56,237.3 171.08,237.74 171.6,236.37 172.12,235.94 172.64,236.83 172.97,236.95 173.3,235.82 173.62,236.66 173.95,236.19 174.27,235.86 174.6,235.5 174.93,233.52 175.25,234.22 175.59,234.87 175.92,233.53 176.25,232.07 176.58,233.96 176.92,231.76 177.25,232.18 177.58,231.17 177.91,231.67 178.24,231.11 178.58,232.7 178.91,232.99 179.24,233.12 179.57,232.76 179.91,234.55 180.24,233.8 180.57,234.22 180.76,235.17 180.94,235.54 181.13,235.67 181.32,235.42 181.5,236 181.69,236.91 181.88,237.42 182.06,238.92 182.25,237.57 182.43,239.38 182.62,238.17 182.81,238.3 182.99,240.74 183.18,240.27 183.42,241.34 183.65,242.02 183.89,242.52 184.13,242.77 184.37,241.18 184.6,242.23 184.84,242.05 185.08,243.98 185.31,243.52 185.55,245.22 185.79,244.55 186.24,244.56 186.69,245.34 187.14,245.6 187.6,245.44 188.03,245.26 188.47,244.75 188.91,245.26 189.35,245.65 189.79,244.62 190.23,244.43 190.67,245.04 191.11,244.55 191.48,244.04 191.85,242.91 192.23,243.65 192.6,244.32 192.97,242.15 193.34,242.15 193.72,242.39 194.09,243.02 194.46,242.38 194.83,240.91 195.21,240.92 195.58,240.31 195.95,240.89 196.32,240.62 196.73,241.79 197.13,241.75 197.53,240.21 197.93,240.35 198.33,241.08 198.73,241.33 199.13,241.31 199.54,242 199.94,242.47 200.34,243.14 200.74,242.88 201.18,242.44 201.62,243.04 202.06,244.35 202.5,243.45 202.93,244.07 203.37,243.92 203.81,243.18 204.25,245.09 204.69,244.33 205.13,244.13 205.57,244.87 206.01,245.09 206.45,245.13 206.89,245.21 207.32,246.36 207.76,245.83 208.2,246.1 208.64,246.89 209.08,245.71 209.52,246.32 209.91,247.23 210.3,246.84 210.69,247.11 211.08,246.54 211.47,248.12 211.86,247.45 212.25,247.36 212.64,247.79 213.03,248.54 213.43,248.94 213.83,248.79 214.22,248.68 214.62,248.84 215.02,249.43 215.41,249.98 215.81,250.14 216.21,249.86 216.6,251.02 217,251.14 217.4,250.95 217.84,251.14 218.28,251.37 218.72,250.78 219.16,251.78 219.6,251.03 220.04,251.68 220.48,251.96 220.92,251.86 221.36,251.48 221.8,252.32 222.24,251.74 222.69,252.34 223.13,252.26 223.57,252.32 224.05,252.29 224.53,252.66 225,252.7 225.48,252.73 225.96,252.74 226.44,252.9 226.92,252.79 227.4,253.07 227.88,253.04 228.36,253 228.84,253.21 229.29,253.18 229.74,253.26 230.19,253.34 230.64,253.28 231.09,253.35 231.54,253.43 232,253.29 232.45,253.3 232.9,253.31 233.35,253.43 233.8,253.52 234.25,253.54 234.71,253.54 235.16,253.69 235.61,253.56 236.06,253.51 236.51,253.65 236.96,253.69 237.41,253.53 237.87,253.7 238.37,253.7 238.87,253.7 239.37,253.7 239.87,253.7 240.37,253.7 240.88,253.7 241.38,253.7 241.88,253.9"/>
<text x="225" y="225" font-size="10.5" text-anchor="middle" fill="#2a2a2a" stroke="#2a2a2a" stroke-width="0.2">29%</text>
<polygon fill="#111" points="292.3,253.7 292.3,250.26 292.3,250.26 292.74,250.07 293.18,250.16 293.62,249.55 294.06,249.07 294.5,249.68 294.94,249.22 295.29,248.63 295.64,248.58 295.99,248.89 296.34,247.85 296.68,247.35 297.03,247.41 297.38,247.99 297.73,246.06 298.08,247.05 298.43,246.32 298.81,246.66 299.18,245.68 299.56,246.4 299.94,244.94 300.31,245.15 300.69,245.12 301.07,244.55 301.55,245.08 302.03,243.92 302.51,244.95 303,244.41 303.48,243.72 303.96,244.94 304.44,244.12 304.92,243.12 305.4,243.72 305.89,243.55 306.37,242.76 306.85,243.77 307.33,242.54 307.81,242.5 308.29,243.08 308.78,244.5 309.26,242.35 309.74,243.37 310.18,243.8 310.61,241.91 311.05,241.97 311.48,241.5 311.92,243.36 312.36,242.71 312.79,241.2 313.23,241.65 313.67,240.92 314.11,240.98 314.55,241.3 314.99,242.57 315.43,243.53 315.87,242.88 316.26,242.14 316.64,244.44 317.03,244.59 317.42,244.62 317.81,243.59 318.19,244.65 318.58,244.94 318.97,245.76 319.36,245.44 319.71,246.56 320.05,246.68 320.4,245.94 320.75,246.05 321.1,246.57 321.45,246.72 321.8,247.24 322.15,247.81 322.5,248.91 322.84,248.54 323.24,248.95 323.63,248.94 324.03,249.81 324.42,249.1 324.82,249.08 325.21,250.11 325.6,249.8 326,250.5 326.39,250.77 326.79,250.74 327.18,250.95 327.62,250.84 328.06,250.76 328.5,251.05 328.93,251.39 329.37,251.51 329.81,252.22 330.25,251.59 330.69,251.88 331.13,252 331.56,252.32 332.04,252.1 332.52,252.7 332.99,252.68 333.47,252.74 333.94,252.69 334.42,252.86 334.89,253.01 335.37,253.09 335.85,252.97 336.32,253.13 336.8,253.21 337.25,253.3 337.71,253.37 338.16,253.27 338.61,253.19 339.07,253.32 339.52,253.52 339.98,253.45 340.43,253.58 340.89,253.52 341.34,253.46 341.79,253.55 342.25,253.62 342.7,253.45 343.16,253.58 343.61,253.6 344.07,253.52 344.52,253.7 344.52,253.7"/>
<line x1="284.72" y1="252.2" x2="284.72" y2="254.2" stroke="#a0a0a0" stroke-width="1"/>
<line x1="306.65" y1="252.2" x2="306.65" y2="254.2" stroke="#a0a0a0" stroke-width="1"/>
<line x1="328.57" y1="252.2" x2="328.57" y2="254.2" stroke="#a0a0a0" stroke-width="1"/>
<rect x="262.8" y="205.5" width="87.7" height="48.2" fill="none" stroke="#828282" stroke-width="1.2"/>
<clipPath id="c22"><rect x="261.8" y="205.8" width="89.7" height="50.2"/></clipPath>
<polyline clip-path="url(#c22)" fill="none" stroke="#111" stroke-width="1.6" stroke-linejoin="round" points="262.8,250.65 263.14,249.99 263.48,249.51 263.82,249.77 264.16,249.1 264.49,248.75 264.83,248.08 265.17,248.33 265.51,247.76 265.85,246.94 266.19,247.16 266.62,246.67 267.06,247.21 267.5,246.22 267.93,245.75 268.37,246.1 268.8,245.58 269.24,245.15 269.68,245.44 270.19,245.74 270.71,245.41 271.23,244.83 271.75,244.81 272.27,245.09 272.56,245.59 272.85,245.54 273.14,245.94 273.43,246.41 273.72,247.41 274.01,247.16 274.51,247.88 275.01,247.89 275.51,247.49 276,248.06 276.5,247.41 277,247.25 277.5,247.99 277.98,247.6 278.45,248.57 278.93,248.56 279.4,248.17 279.88,248.08 280.35,248.38 280.83,248.27 281.3,248.32 281.78,249.59 282.26,249.53 282.73,249.22 283.21,249.06 283.68,249.84 284.16,248.94 284.63,249.13 285.11,249.08 285.59,250.12 286.06,250.16 286.54,250.51 287.01,249.6 287.49,250.08 287.96,250.26 288.45,250.82 288.93,249.9 289.41,250.53 289.89,249.84 290.37,250.16 290.85,249.86 291.34,249.88 291.82,250.41 292.3,250.26 292.74,250.07 293.18,250.16 293.62,249.55 294.06,249.07 294.5,249.68 294.94,249.22 295.29,248.63 295.64,248.58 295.99,248.89 296.34,247.85 296.68,247.35 297.03,247.41 297.38,247.99 297.73,246.06 298.08,247.05 298.43,246.32 298.81,246.66 299.18,245.68 299.56,246.4 299.94,244.94 300.31,245.15 300.69,245.12 301.07,244.55 301.55,245.08 302.03,243.92 302.51,244.95 303,244.41 303.48,243.72 303.96,244.94 304.44,244.12 304.92,243.12 305.4,243.72 305.89,243.55 306.37,242.76 306.85,243.77 307.33,242.54 307.81,242.5 308.29,243.08 308.78,244.5 309.26,242.35 309.74,243.37 310.18,243.8 310.61,241.91 311.05,241.97 311.48,241.5 311.92,243.36 312.36,242.71 312.79,241.2 313.23,241.65 313.67,240.92 314.11,240.98 314.55,241.3 314.99,242.57 315.43,243.53 315.87,242.88 316.26,242.14 316.64,244.44 317.03,244.59 317.42,244.62 317.81,243.59 318.19,244.65 318.58,244.94 318.97,245.76 319.36,245.44 319.71,246.56 320.05,246.68 320.4,245.94 320.75,246.05 321.1,246.57 321.45,246.72 321.8,247.24 322.15,247.81 322.5,248.91 322.84,248.54 323.24,248.95 323.63,248.94 324.03,249.81 324.42,249.1 324.82,249.08 325.21,250.11 325.6,249.8 326,250.5 326.39,250.77 326.79,250.74 327.18,250.95 327.62,250.84 328.06,250.76 328.5,251.05 328.93,251.39 329.37,251.51 329.81,252.22 330.25,251.59 330.69,251.88 331.13,252 331.56,252.32 332.04,252.1 332.52,252.7 332.99,252.68 333.47,252.74 333.94,252.69 334.42,252.86 334.89,253.01 335.37,253.09 335.85,252.97 336.32,253.13 336.8,253.21 337.25,253.3 337.71,253.37 338.16,253.27 338.61,253.19 339.07,253.32 339.52,253.52 339.98,253.45 340.43,253.58 340.89,253.52 341.34,253.46 341.79,253.55 342.25,253.62 342.7,253.45 343.16,253.58 343.61,253.6 344.07,253.52 344.52,253.7"/>
<text x="325.3" y="225.4" font-size="10.5" text-anchor="middle" fill="#2a2a2a" stroke="#2a2a2a" stroke-width="0.2">59%</text>
<polygon fill="#111" points="396.44,253.7 396.44,250.95 396.44,250.95 396.88,251.16 397.33,250.84 397.77,250.07 398.22,250.3 398.66,250.41 399.11,250.71 399.55,249.8 400,249.89 400.44,250.32 400.89,249.77 401.29,249.66 401.7,249.53 402.11,249.19 402.52,248.81 402.93,248.83 403.34,248.97 403.75,248.25 404.15,247.66 404.56,248.01 404.97,247.04 405.38,247.91 405.79,248.07 406.2,247.16 406.64,246.33 407.08,247.06 407.52,246.7 407.97,245.98 408.41,246.12 408.85,246.96 409.29,245.92 409.74,245.62 410.18,246 410.62,245.42 411.06,246.35 411.51,245.44 411.95,244.93 412.39,245.94 412.83,244.82 413.28,245.48 413.72,243.99 414.16,244.79 414.6,244.38 415.05,243.41 415.49,244.47 415.93,243.86 416.37,244.5 416.82,243.37 417.26,243.47 417.7,243.13 418.14,243.3 418.59,243.04 419.03,243 419.47,241.47 419.91,243.39 420.36,241.77 420.8,241.83 421.24,240.89 421.68,242.74 422.12,241.65 422.57,241.56 423.01,241.28 423.46,243.15 423.9,242.22 424.35,242.22 424.8,242.36 425.24,242.8 425.69,243.29 426.13,243.07 426.57,243.37 426.97,243.93 427.37,243.65 427.77,244.34 428.17,244.12 428.57,244.83 428.97,245.97 429.37,245.55 429.77,245.18 430.17,245.08 430.57,246.68 430.97,246.32 431.38,245.99 431.79,247.22 432.2,247.47 432.61,246.43 433.02,247.52 433.43,248 433.83,247.31 434.24,248.6 434.65,248.32 435.06,247.94 435.47,248.35 435.88,248.65 436.28,249.22 436.73,249.53 437.17,250.04 437.61,249.78 438.05,250.22 438.5,250.04 438.94,250.21 439.38,250.62 439.82,250.39 440.27,251.33 440.71,250.95 441.15,251.52 441.59,251.49 442.04,251.14 442.48,251.54 442.92,251.79 443.36,252.14 443.81,251.75 444.25,251.89 444.69,252.05 445.13,252.5 445.58,252.58 446.02,252.68 446.46,252.72 446.9,252.24 447.35,252.63 447.79,252.6 448.23,252.71 448.67,252.81 449.13,252.93 449.58,252.97 450.04,253.1 450.49,253.16 450.95,253.04 451.4,253.04 451.86,253.3 452.31,253.29 452.77,253.28 453.22,253.5 453.68,253.51 454.13,253.56 454.59,253.51 455.04,253.67 455.5,253.7 455.5,253.7"/>
<line x1="388.75" y1="252.2" x2="388.75" y2="254.2" stroke="#a0a0a0" stroke-width="1"/>
<line x1="411" y1="252.2" x2="411" y2="254.2" stroke="#a0a0a0" stroke-width="1"/>
<line x1="433.25" y1="252.2" x2="433.25" y2="254.2" stroke="#a0a0a0" stroke-width="1"/>
<rect x="366.5" y="205.5" width="89" height="48.2" fill="none" stroke="#828282" stroke-width="1.2"/>
<clipPath id="c23"><rect x="365.5" y="205.8" width="91" height="50.2"/></clipPath>
<polyline clip-path="url(#c23)" fill="none" stroke="#111" stroke-width="1.6" stroke-linejoin="round" points="366.5,251.98 366.93,251.64 367.36,251.87 367.79,250.83 368.22,250.74 368.65,250.56 369.08,250.9 369.51,250.84 369.94,250.68 370.37,249.48 370.8,249.77 371.27,249.15 371.74,249.88 372.21,249.25 372.69,249.46 373.16,249.76 373.63,249.46 374.1,249.05 374.57,249.62 375.05,249.25 375.52,249.4 375.99,249.29 376.46,248.96 376.93,248.73 377.41,249.48 377.88,248.88 378.36,248.36 378.84,249.53 379.33,248.99 379.81,249.31 380.29,249.26 380.77,249.55 381.26,249.45 381.74,249.24 382.22,248.99 382.7,249.98 383.19,249.77 383.66,250.39 384.13,249.93 384.6,249.87 385.08,250.2 385.55,250.63 386.02,250.68 386.49,250.85 386.96,250.8 387.44,250.55 387.91,250.95 388.38,250.63 388.85,251.07 389.32,250.76 389.8,250.93 390.27,250.95 390.74,250.48 391.22,251.09 391.69,250.86 392.17,250.83 392.64,250.44 393.11,250.75 393.59,250.8 394.06,250.63 394.54,251.02 395.01,251.41 395.49,250.76 395.96,250.53 396.44,250.95 396.88,251.16 397.33,250.84 397.77,250.07 398.22,250.3 398.66,250.41 399.11,250.71 399.55,249.8 400,249.89 400.44,250.32 400.89,249.77 401.29,249.66 401.7,249.53 402.11,249.19 402.52,248.81 402.93,248.83 403.34,248.97 403.75,248.25 404.15,247.66 404.56,248.01 404.97,247.04 405.38,247.91 405.79,248.07 406.2,247.16 406.64,246.33 407.08,247.06 407.52,246.7 407.97,245.98 408.41,246.12 408.85,246.96 409.29,245.92 409.74,245.62 410.18,246 410.62,245.42 411.06,246.35 411.51,245.44 411.95,244.93 412.39,245.94 412.83,244.82 413.28,245.48 413.72,243.99 414.16,244.79 414.6,244.38 415.05,243.41 415.49,244.47 415.93,243.86 416.37,244.5 416.82,243.37 417.26,243.47 417.7,243.13 418.14,243.3 418.59,243.04 419.03,243 419.47,241.47 419.91,243.39 420.36,241.77 420.8,241.83 421.24,240.89 421.68,242.74 422.12,241.65 422.57,241.56 423.01,241.28 423.46,243.15 423.9,242.22 424.35,242.22 424.8,242.36 425.24,242.8 425.69,243.29 426.13,243.07 426.57,243.37 426.97,243.93 427.37,243.65 427.77,244.34 428.17,244.12 428.57,244.83 428.97,245.97 429.37,245.55 429.77,245.18 430.17,245.08 430.57,246.68 430.97,246.32 431.38,245.99 431.79,247.22 432.2,247.47 432.61,246.43 433.02,247.52 433.43,248 433.83,247.31 434.24,248.6 434.65,248.32 435.06,247.94 435.47,248.35 435.88,248.65 436.28,249.22 436.73,249.53 437.17,250.04 437.61,249.78 438.05,250.22 438.5,250.04 438.94,250.21 439.38,250.62 439.82,250.39 440.27,251.33 440.71,250.95 441.15,251.52 441.59,251.49 442.04,251.14 442.48,251.54 442.92,251.79 443.36,252.14 443.81,251.75 444.25,251.89 444.69,252.05 445.13,252.5 445.58,252.58 446.02,252.68 446.46,252.72 446.9,252.24 447.35,252.63 447.79,252.6 448.23,252.71 448.67,252.81 449.13,252.93 449.58,252.97 450.04,253.1 450.49,253.16 450.95,253.04 451.4,253.04 451.86,253.3 452.31,253.29 452.77,253.28 453.22,253.5 453.68,253.51 454.13,253.56 454.59,253.51 455.04,253.67 455.5,253.7"/>
<text x="429.9" y="225.5" font-size="10.5" text-anchor="middle" fill="#2a2a2a" stroke="#2a2a2a" stroke-width="0.2">69%</text>
<polygon fill="#111" points="85.14,315.9 85.14,313.25 85.14,313.25 85.63,313.36 86.12,312.98 86.61,313.59 87.1,313.48 87.59,312.7 88.09,313.23 88.58,312.52 89.07,313.04 89.56,312.9 90.04,313.21 90.52,313.43 91,312.92 91.48,312.96 91.96,313.43 92.44,313.65 92.92,313.17 93.4,313.13 93.88,313.35 94.37,313.31 94.85,313.76 95.29,313.95 95.73,314.17 96.17,313.73 96.61,314.63 97.05,314.12 97.49,314.74 97.93,314.79 98.37,314.63 98.81,314.81 99.25,314.91 99.69,315.04 100.13,315.19 100.6,315.24 101.07,315.39 101.54,315.39 102.01,315.29 102.48,315.45 102.95,315.62 103.42,315.64 103.88,315.46 104.35,315.61 104.82,315.68 105.29,315.67 105.76,315.78 106.23,315.73 106.7,315.71 107.17,315.9 107.67,315.78 108.18,315.9 108.68,315.9 109.18,315.9 109.69,315.89 110.19,315.9 110.69,315.9 111.2,316.1 111.2,315.9"/>
<line x1="77.49" y1="314.4" x2="77.49" y2="316.4" stroke="#a0a0a0" stroke-width="1"/>
<line x1="99.62" y1="314.4" x2="99.62" y2="316.4" stroke="#a0a0a0" stroke-width="1"/>
<line x1="121.76" y1="314.4" x2="121.76" y2="316.4" stroke="#a0a0a0" stroke-width="1"/>
<rect x="55.35" y="266" width="88.55" height="49.9" fill="none" stroke="#a6a6a6" stroke-width="1.2"/>
<clipPath id="c30"><rect x="54.35" y="266.3" width="90.55" height="51.9"/></clipPath>
<polyline clip-path="url(#c30)" fill="none" stroke="#111" stroke-width="1.6" stroke-linejoin="round" points="55.35,287.95 55.42,287.15 55.49,286.66 55.56,285.89 55.63,286.95 55.7,286.53 55.77,284.61 55.84,283.75 55.91,284.5 55.98,284.65 56.05,282.32 56.12,283.39 56.19,283.31 56.26,283.17 56.33,280.93 56.4,282.3 56.47,280.14 56.54,280.68 56.61,279.35 56.68,280.7 56.75,277.94 56.82,278.82 56.89,278.13 56.96,277.65 57.03,277.58 57.1,276.53 57.17,277.27 57.24,275.11 57.31,274.85 57.38,273.9 57.45,273.97 57.52,272.88 57.59,272.4 57.66,273.68 57.73,273.36 57.8,272.99 57.87,271.91 57.92,270.44 57.97,270.26 58.02,271.85 58.07,270.5 58.12,268.38 58.17,269.52 58.22,268.86 58.27,268.56 58.32,268.45 58.37,266.31 58.42,268.07 58.47,267.66 58.52,266.53 58.57,265.48 58.62,264.92 58.67,263.58 58.72,263.34 58.77,262.68 58.82,263.78 58.87,262.94 59.39,261.73 59.91,262.86 60.43,262.82 60.95,262.32 61.47,263.1 61.99,262.94 62.02,262.37 62.05,263.63 62.08,264.27 62.11,264.37 62.14,265.75 62.17,264.86 62.2,267.12 62.23,266.26 62.26,266.15 62.29,267.44 62.32,267.9 62.35,268.98 62.38,269.89 62.41,269.34 62.44,270.62 62.47,269.98 62.5,271.47 62.53,270.52 62.56,270.98 62.59,272.7 62.62,273.71 62.65,273.09 62.68,273.41 62.71,274.83 62.74,274.99 62.77,275.62 62.8,275.47 62.84,274.97 62.89,276.75 62.93,276.68 62.98,277.34 63.02,277.41 63.06,278.41 63.11,278.81 63.15,278.3 63.2,280.79 63.24,279.61 63.29,281.74 63.33,282.26 63.38,282.24 63.42,281.65 63.47,281.65 63.51,282.52 63.56,284.59 63.6,283.35 63.65,284.19 63.69,283.76 63.74,284.02 63.78,286.16 63.82,286.57 63.87,287.15 63.91,287.63 63.96,288.47 64,287.95 64.09,288.46 64.18,288.92 64.28,288.14 64.37,288.95 64.46,290.22 64.55,290.22 64.64,290.76 64.73,291.38 64.82,291.09 64.91,292.57 65,293.22 65.09,293.65 65.18,294.46 65.27,295.17 65.36,295.48 65.45,293.93 65.54,296.42 65.63,295.24 65.72,297.69 65.81,296.86 66.02,296.77 66.22,296.5 66.42,297.21 66.62,298.66 66.82,300.15 67.02,300.57 67.22,299.64 67.42,299.38 67.63,299.29 67.83,302.14 68.03,302.09 68.23,302.72 68.43,302.2 68.82,303.68 69.21,302.18 69.61,303.38 70,303.16 70.39,304.01 70.78,304.26 71.17,304.19 71.56,304.01 71.95,304.34 72.33,305.58 72.7,305.39 73.07,305.74 73.45,304.98 73.82,305.38 74.2,306.58 74.57,306.12 74.95,306.58 75.33,306 75.71,306.86 76.09,307.72 76.47,308.04 76.86,308.57 77.24,308.47 77.63,307.93 78.03,308.88 78.43,309.31 78.83,309.69 79.23,309.21 79.62,310.35 80.02,310.23 80.42,310.01 80.82,311.15 81.22,310.66 81.61,311.47 82.05,311.48 82.49,311.88 82.93,311.92 83.37,312.86 83.81,313.15 84.25,313.05 84.69,312.75 85.14,313.25 85.63,313.36 86.12,312.98 86.61,313.59 87.1,313.48 87.59,312.7 88.09,313.23 88.58,312.52 89.07,313.04 89.56,312.9 90.04,313.21 90.52,313.43 91,312.92 91.48,312.96 91.96,313.43 92.44,313.65 92.92,313.17 93.4,313.13 93.88,313.35 94.37,313.31 94.85,313.76 95.29,313.95 95.73,314.17 96.17,313.73 96.61,314.63 97.05,314.12 97.49,314.74 97.93,314.79 98.37,314.63 98.81,314.81 99.25,314.91 99.69,315.04 100.13,315.19 100.6,315.24 101.07,315.39 101.54,315.39 102.01,315.29 102.48,315.45 102.95,315.62 103.42,315.64 103.88,315.46 104.35,315.61 104.82,315.68 105.29,315.67 105.76,315.78 106.23,315.73 106.7,315.71 107.17,315.9 107.67,315.78 108.18,315.9 108.68,315.9 109.18,315.9 109.69,315.89 110.19,315.9 110.69,315.9 111.2,316.1"/>
<text x="117.65" y="288.1" font-size="10.5" text-anchor="middle" fill="#2a2a2a" stroke="#2a2a2a" stroke-width="0.2">5%</text>
<polygon fill="#111" points="187.53,315.9 187.53,309.29 187.95,309.11 188.47,308.94 188.99,308.83 189.52,308.92 190.04,309.33 190.48,309.88 190.92,309.4 191.36,309.45 191.8,309.57 192.24,308.02 192.68,308.15 193.12,308.13 193.56,308.47 194,308.54 194.43,307.27 194.87,307.76 195.31,307.59 195.74,307.49 196.18,307.55 196.62,307.33 197.06,308.12 197.5,307.73 197.94,308.77 198.38,307.7 198.82,309.01 199.26,308.4 199.7,308.98 200.14,308.43 200.58,309.93 201.02,309.7 201.46,309.3 201.9,310.13 202.34,309.97 202.78,309.99 203.22,310.2 203.66,310.88 204.1,309.99 204.54,310.62 204.98,311.37 205.42,310.96 205.86,311.17 206.3,311.56 206.74,312.03 207.19,312.78 207.63,311.8 208.07,312.98 208.52,312.61 208.96,312.99 209.4,312.81 209.84,313.75 210.29,313.27 210.73,313.12 211.17,313.76 211.61,314.27 212.05,314.23 212.49,314 212.93,314.45 213.37,314.38 213.81,314.74 214.25,314.85 214.69,314.25 215.13,314.74 215.57,314.88 216.01,314.8 216.45,315.03 216.92,315.14 217.39,315.17 217.86,315.3 218.33,315.27 218.8,315.35 219.27,315.31 219.74,315.55 220.21,315.57 220.68,315.57 221.15,315.48 221.62,315.54 222.09,315.84 222.56,315.88 223.03,315.71 223.5,315.9 224,315.85 224.5,315.9 225.01,315.9 225.51,315.9 226.01,315.9 226.52,315.9 227.02,315.9 227.52,316.1 227.52,315.9"/>
<line x1="181.49" y1="314.4" x2="181.49" y2="316.4" stroke="#a0a0a0" stroke-width="1"/>
<line x1="203.62" y1="314.4" x2="203.62" y2="316.4" stroke="#a0a0a0" stroke-width="1"/>
<line x1="225.76" y1="314.4" x2="225.76" y2="316.4" stroke="#a0a0a0" stroke-width="1"/>
<rect x="159.35" y="266" width="88.55" height="49.9" fill="none" stroke="#a6a6a6" stroke-width="1.2"/>
<clipPath id="c31"><rect x="158.35" y="266.3" width="90.55" height="51.9"/></clipPath>
<polyline clip-path="url(#c31)" fill="none" stroke="#111" stroke-width="1.6" stroke-linejoin="round" points="159.35,302.2 159.49,302.74 159.63,300.36 159.77,300 159.91,301.54 160.05,299.1 160.19,298.56 160.33,299.71 160.47,298.6 160.61,298.69 160.75,297.34 160.89,296.13 161.03,296.88 161.17,296.54 161.31,296.1 161.45,295.28 161.59,294.68 161.73,293.36 161.87,294.21 162.22,295.11 162.57,294.7 162.92,295.12 163.27,295.9 163.63,295.94 163.98,295.92 164.33,295.5 164.68,297.81 165.04,297.02 165.39,297.77 165.71,299.27 166.04,298.29 166.37,298.67 166.7,299.15 167.02,299.68 167.35,299.46 167.68,299.73 168,300.42 168.46,299.98 168.91,299.56 169.36,300.24 169.81,299.5 170.06,300.99 170.3,301.28 170.55,299.63 170.79,302.1 171.04,301.96 171.28,301.33 171.53,302.2 171.71,300.57 171.89,300.24 172.07,300.44 172.25,301.33 172.43,299.65 172.61,300.56 172.79,299.46 172.97,299.8 173.16,297.31 173.34,297.77 173.77,297.31 174.21,296.93 174.64,298.33 175.08,296.86 175.52,296.22 175.95,296.55 176.33,295.85 176.7,295.94 177.07,295.95 177.45,295.09 177.82,294.28 178.2,293.57 178.57,294.21 178.72,295.81 178.87,293.98 179.02,295.54 179.17,295.87 179.32,295.56 179.48,297.17 179.63,297.87 179.78,296.5 179.93,298.17 180.08,299.69 180.23,297.83 180.38,299.5 180.58,299.84 180.78,300.92 180.98,299.7 181.19,302.23 181.39,301.03 181.59,300.79 181.79,302.41 181.99,302.97 182.19,302.42 182.39,304.27 182.59,302.86 182.8,304.02 183,304.9 183.29,304.37 183.58,306.15 183.87,305.12 184.16,307.51 184.45,307.15 184.74,306.91 185.03,307.79 185.32,308.94 185.61,308.47 186.07,309.53 186.52,309.31 186.97,309.66 187.42,309.33 187.95,309.11 188.47,308.94 188.99,308.83 189.52,308.92 190.04,309.33 190.48,309.88 190.92,309.4 191.36,309.45 191.8,309.57 192.24,308.02 192.68,308.15 193.12,308.13 193.56,308.47 194,308.54 194.43,307.27 194.87,307.76 195.31,307.59 195.74,307.49 196.18,307.55 196.62,307.33 197.06,308.12 197.5,307.73 197.94,308.77 198.38,307.7 198.82,309.01 199.26,308.4 199.7,308.98 200.14,308.43 200.58,309.93 201.02,309.7 201.46,309.3 201.9,310.13 202.34,309.97 202.78,309.99 203.22,310.2 203.66,310.88 204.1,309.99 204.54,310.62 204.98,311.37 205.42,310.96 205.86,311.17 206.3,311.56 206.74,312.03 207.19,312.78 207.63,311.8 208.07,312.98 208.52,312.61 208.96,312.99 209.4,312.81 209.84,313.75 210.29,313.27 210.73,313.12 211.17,313.76 211.61,314.27 212.05,314.23 212.49,314 212.93,314.45 213.37,314.38 213.81,314.74 214.25,314.85 214.69,314.25 215.13,314.74 215.57,314.88 216.01,314.8 216.45,315.03 216.92,315.14 217.39,315.17 217.86,315.3 218.33,315.27 218.8,315.35 219.27,315.31 219.74,315.55 220.21,315.57 220.68,315.57 221.15,315.48 221.62,315.54 222.09,315.84 222.56,315.88 223.03,315.71 223.5,315.9 224,315.85 224.5,315.9 225.01,315.9 225.51,315.9 226.01,315.9 226.52,315.9 227.02,315.9 227.52,316.1"/>
<text x="224.6" y="288.1" font-size="10.5" text-anchor="middle" fill="#2a2a2a" stroke="#2a2a2a" stroke-width="0.2">20%</text>
<polygon fill="#111" points="292.13,315.9 292.13,313.25 292.13,313.25 292.52,313.18 292.91,312.66 293.3,312.75 293.69,311.77 294.08,311.5 294.47,311.73 294.85,311.31 295.24,310.85 295.63,311.11 296.02,310.63 296.41,310.32 296.8,309.88 297.19,310.27 297.57,309.91 297.96,309.16 298.35,309.29 298.74,309.54 299.13,308.98 299.63,309.51 300.13,308.26 300.63,308.28 301.13,309.35 301.63,308.95 302.13,308.37 302.63,308.47 303.06,309.45 303.5,309.16 303.94,308.13 304.38,309.28 304.81,308.35 305.25,309.4 305.69,309.43 306.13,309.33 306.62,308.65 307.12,309.7 307.62,309.73 308.12,309.3 308.62,308.92 309.12,309.74 309.62,309.69 310.06,310.39 310.5,310.8 310.94,309.81 311.38,311.04 311.82,310.83 312.26,311.46 312.7,311.56 313.14,311.27 313.58,311.67 314.02,311.47 314.46,311.07 314.9,312.36 315.33,312.35 315.77,311.9 316.21,312.7 316.64,313.08 317.08,312.29 317.52,313.06 317.96,312.92 318.39,313.54 318.83,313.37 319.27,313.76 319.71,314.03 320.14,314.17 320.58,314.48 321.02,314.27 321.45,314.6 321.89,314.7 322.33,314.82 322.77,315.05 323.2,314.83 323.64,314.99 324.08,314.91 324.51,315.08 324.95,315.18 325.39,315.49 325.83,315.59 326.26,315.59 326.72,315.65 327.18,315.59 327.64,315.59 328.1,315.62 328.57,315.79 329.03,315.66 329.49,315.72 329.95,315.9 330.41,315.9 330.87,315.9 331.33,315.87 331.79,315.83 332.25,315.9 332.71,315.82 333.17,315.86 333.63,315.88 334.09,315.9 334.55,315.9 335.01,316.1 335.51,315.9 336.01,315.9 336.51,315.9 337.01,315.9 337.51,315.9 338.01,315.9 338.51,315.9 339.01,316.1 339.01,315.9"/>
<line x1="284.54" y1="314.4" x2="284.54" y2="316.4" stroke="#a0a0a0" stroke-width="1"/>
<line x1="306.52" y1="314.4" x2="306.52" y2="316.4" stroke="#a0a0a0" stroke-width="1"/>
<line x1="328.51" y1="314.4" x2="328.51" y2="316.4" stroke="#a0a0a0" stroke-width="1"/>
<rect x="262.55" y="266" width="87.95" height="49.9" fill="none" stroke="#a6a6a6" stroke-width="1.2"/>
<clipPath id="c32"><rect x="261.55" y="266.3" width="89.95" height="51.9"/></clipPath>
<polyline clip-path="url(#c32)" fill="none" stroke="#111" stroke-width="1.6" stroke-linejoin="round" points="262.55,312.9 262.78,312 263,311.69 263.23,312.14 263.46,311.29 263.69,310.89 263.91,309.95 264.14,310.06 264.37,309.29 264.59,308.78 264.82,308.85 265.05,308.47 265.42,309.06 265.79,308.34 266.16,307.46 266.53,306.9 266.9,306.46 267.28,307.16 267.65,306.63 268.03,307.59 268.4,307.13 268.78,307.33 269.16,307.2 269.54,307.1 269.92,307.83 270.3,308.47 270.68,309.56 271.07,309.02 271.46,308.95 271.85,308.92 272.24,309.33 272.63,309.7 273.02,309.89 273.4,310.03 273.79,310.76 274.27,310.52 274.75,311.38 275.22,311.25 275.7,311.51 276.18,311.29 276.66,311.72 277.13,311.16 277.61,310.78 278.09,310.71 278.56,311.87 279.04,311.47 279.52,311.97 279.99,312.04 280.47,311.55 280.95,311.26 281.43,312.03 281.9,312.14 282.38,311.67 282.86,312.63 283.33,311.76 283.81,312.14 284.29,312.54 284.76,312.97 285.24,312.88 285.72,313.15 286.2,312.21 286.67,312.83 287.15,312.34 287.63,312.72 288.1,312.88 288.58,312.88 289.06,312.69 289.53,312.9 290.05,312.62 290.57,312.61 291.09,313.62 291.61,313.09 292.13,313.25 292.52,313.18 292.91,312.66 293.3,312.75 293.69,311.77 294.08,311.5 294.47,311.73 294.85,311.31 295.24,310.85 295.63,311.11 296.02,310.63 296.41,310.32 296.8,309.88 297.19,310.27 297.57,309.91 297.96,309.16 298.35,309.29 298.74,309.54 299.13,308.98 299.63,309.51 300.13,308.26 300.63,308.28 301.13,309.35 301.63,308.95 302.13,308.37 302.63,308.47 303.06,309.45 303.5,309.16 303.94,308.13 304.38,309.28 304.81,308.35 305.25,309.4 305.69,309.43 306.13,309.33 306.62,308.65 307.12,309.7 307.62,309.73 308.12,309.3 308.62,308.92 309.12,309.74 309.62,309.69 310.06,310.39 310.5,310.8 310.94,309.81 311.38,311.04 311.82,310.83 312.26,311.46 312.7,311.56 313.14,311.27 313.58,311.67 314.02,311.47 314.46,311.07 314.9,312.36 315.33,312.35 315.77,311.9 316.21,312.7 316.64,313.08 317.08,312.29 317.52,313.06 317.96,312.92 318.39,313.54 318.83,313.37 319.27,313.76 319.71,314.03 320.14,314.17 320.58,314.48 321.02,314.27 321.45,314.6 321.89,314.7 322.33,314.82 322.77,315.05 323.2,314.83 323.64,314.99 324.08,314.91 324.51,315.08 324.95,315.18 325.39,315.49 325.83,315.59 326.26,315.59 326.72,315.65 327.18,315.59 327.64,315.59 328.1,315.62 328.57,315.79 329.03,315.66 329.49,315.72 329.95,315.9 330.41,315.9 330.87,315.9 331.33,315.87 331.79,315.83 332.25,315.9 332.71,315.82 333.17,315.86 333.63,315.88 334.09,315.9 334.55,315.9 335.01,316.1 335.51,315.9 336.01,315.9 336.51,315.9 337.01,315.9 337.51,315.9 338.01,315.9 338.51,315.9 339.01,316.1"/>
<text x="325.1" y="287.9" font-size="10.5" text-anchor="middle" fill="#2a2a2a" stroke="#2a2a2a" stroke-width="0.2">44%</text>
<polygon fill="#111" points="395.41,315.9 395.41,313.76 395.41,313.76 395.85,313.54 396.3,313.63 396.74,313.27 397.18,313.59 397.63,313.01 398.07,312.65 398.51,313.04 398.96,312.91 399.4,312.45 399.85,312.63 400.29,311.63 400.73,312.03 401.18,312.24 401.62,312.22 402.06,312.06 402.51,311.63 402.95,311.63 403.4,311.31 403.84,310.51 404.28,310.15 404.73,310.24 405.17,309.47 405.61,310.06 406.06,309.69 406.5,309.1 406.94,309.94 407.39,309.66 407.83,309.91 408.28,309 408.72,309.07 409.16,309.35 409.61,307.64 410.05,307.83 410.49,307.97 410.94,307.51 411.38,307.91 411.83,307.69 412.27,307.53 412.72,307.55 413.17,308 413.61,307.09 414.06,307.07 414.51,307.61 414.95,307.29 415.4,305.86 415.84,306.12 416.29,305.15 416.73,304.86 417.18,306.38 417.62,304.96 418.06,304.64 418.51,305.76 418.95,304.9 419.39,304.34 419.84,304.31 420.28,304.79 420.73,304.97 421.17,305.21 421.61,305.32 422.06,305.94 422.5,306.3 422.94,306.12 423.35,305.53 423.75,307.4 424.15,306.15 424.55,306.65 424.95,306.43 425.35,308.33 425.75,308.56 426.15,307.88 426.55,307.38 426.95,308.38 427.36,308.47 427.77,308.54 428.17,309.68 428.58,309.9 428.99,309.51 429.4,308.89 429.81,310.03 430.22,310.23 430.63,309.69 431.04,310.02 431.45,310.3 431.86,310.72 432.27,311.13 432.68,311.47 433.12,311.06 433.57,311.68 434.01,312.38 434.46,311.77 434.9,312.87 435.34,312.78 435.79,312.44 436.23,313.19 436.67,312.82 437.12,313.35 437.56,313.46 438,313.76 438.45,313.8 438.89,314.13 439.34,313.94 439.78,314.12 440.22,314.61 440.67,314.72 441.11,314.44 441.55,314.7 442,314.34 442.44,314.98 442.89,314.77 443.33,314.97 443.77,315.04 444.22,315.05 444.66,315.17 445.1,315.19 445.56,315.36 446.01,315.23 446.46,315.35 446.91,315.44 447.36,315.39 447.82,315.32 448.27,315.42 448.72,315.29 449.17,315.48 449.62,315.41 450.08,315.63 450.53,315.56 450.98,315.51 451.43,315.48 451.88,315.62 452.34,315.67 452.79,315.63 453.24,315.89 453.69,315.69 454.14,315.83 454.6,315.86 455.05,315.8 455.5,315.9 455.5,315.9"/>
<line x1="388.56" y1="314.4" x2="388.56" y2="316.4" stroke="#a0a0a0" stroke-width="1"/>
<line x1="410.88" y1="314.4" x2="410.88" y2="316.4" stroke="#a0a0a0" stroke-width="1"/>
<line x1="433.19" y1="314.4" x2="433.19" y2="316.4" stroke="#a0a0a0" stroke-width="1"/>
<rect x="366.25" y="266" width="89.25" height="49.9" fill="none" stroke="#a6a6a6" stroke-width="1.2"/>
<clipPath id="c33"><rect x="365.25" y="266.3" width="91.25" height="51.9"/></clipPath>
<polyline clip-path="url(#c33)" fill="none" stroke="#111" stroke-width="1.6" stroke-linejoin="round" points="366.76,314.68 367.18,314.26 367.6,313.84 368.02,313.76 368.45,313.39 368.87,313.34 369.29,313.29 369.72,313.34 370.14,312.54 370.56,312.54 371,312.9 371.45,311.84 371.89,311.86 372.34,312 372.78,311.94 373.22,312.26 373.67,312.32 374.11,311.64 374.55,311.5 375,311.71 375.44,311.65 375.88,311.47 376.33,310.83 376.77,311.31 377.22,311.41 377.66,310.65 378.1,310.84 378.55,311.33 378.99,310.73 379.43,310.76 379.88,311.67 380.32,310.63 380.77,310.8 381.21,312.1 381.65,312.41 382.1,312.36 382.54,312.48 382.98,312.54 383.46,312.09 383.93,312.6 384.4,312.88 384.88,313.12 385.35,312.9 385.82,312.84 386.3,312.62 386.77,312.56 387.24,312.46 387.72,313.32 388.19,312.75 388.66,313.3 389.14,313.19 389.61,313.54 390.08,313.25 390.57,313.51 391.05,313.06 391.54,313.44 392.02,313.37 392.5,313.22 392.99,313.05 393.47,313.75 393.96,313.54 394.44,313.37 394.92,314 395.41,313.76 395.85,313.54 396.3,313.63 396.74,313.27 397.18,313.59 397.63,313.01 398.07,312.65 398.51,313.04 398.96,312.91 399.4,312.45 399.85,312.63 400.29,311.63 400.73,312.03 401.18,312.24 401.62,312.22 402.06,312.06 402.51,311.63 402.95,311.63 403.4,311.31 403.84,310.51 404.28,310.15 404.73,310.24 405.17,309.47 405.61,310.06 406.06,309.69 406.5,309.1 406.94,309.94 407.39,309.66 407.83,309.91 408.28,309 408.72,309.07 409.16,309.35 409.61,307.64 410.05,307.83 410.49,307.97 410.94,307.51 411.38,307.91 411.83,307.69 412.27,307.53 412.72,307.55 413.17,308 413.61,307.09 414.06,307.07 414.51,307.61 414.95,307.29 415.4,305.86 415.84,306.12 416.29,305.15 416.73,304.86 417.18,306.38 417.62,304.96 418.06,304.64 418.51,305.76 418.95,304.9 419.39,304.34 419.84,304.31 420.28,304.79 420.73,304.97 421.17,305.21 421.61,305.32 422.06,305.94 422.5,306.3 422.94,306.12 423.35,305.53 423.75,307.4 424.15,306.15 424.55,306.65 424.95,306.43 425.35,308.33 425.75,308.56 426.15,307.88 426.55,307.38 426.95,308.38 427.36,308.47 427.77,308.54 428.17,309.68 428.58,309.9 428.99,309.51 429.4,308.89 429.81,310.03 430.22,310.23 430.63,309.69 431.04,310.02 431.45,310.3 431.86,310.72 432.27,311.13 432.68,311.47 433.12,311.06 433.57,311.68 434.01,312.38 434.46,311.77 434.9,312.87 435.34,312.78 435.79,312.44 436.23,313.19 436.67,312.82 437.12,313.35 437.56,313.46 438,313.76 438.45,313.8 438.89,314.13 439.34,313.94 439.78,314.12 440.22,314.61 440.67,314.72 441.11,314.44 441.55,314.7 442,314.34 442.44,314.98 442.89,314.77 443.33,314.97 443.77,315.04 444.22,315.05 444.66,315.17 445.1,315.19 445.56,315.36 446.01,315.23 446.46,315.35 446.91,315.44 447.36,315.39 447.82,315.32 448.27,315.42 448.72,315.29 449.17,315.48 449.62,315.41 450.08,315.63 450.53,315.56 450.98,315.51 451.43,315.48 451.88,315.62 452.34,315.67 452.79,315.63 453.24,315.89 453.69,315.69 454.14,315.83 454.6,315.86 455.05,315.8 455.5,315.9"/>
<text x="430.1" y="287.9" font-size="10.5" text-anchor="middle" fill="#2a2a2a" stroke="#2a2a2a" stroke-width="0.2">68%</text>
<polygon fill="#111" points="85.17,376.4 85.17,372.7 85.17,372.7 85.66,372.81 86.15,372.42 86.64,373.5 87.13,372.67 87.63,373.12 88.12,373.48 88.61,373.46 89.1,373.74 89.59,373.4 90.03,373.08 90.47,373.62 90.91,374.07 91.35,373.54 91.79,374.03 92.23,374.19 92.67,374.54 93.11,374.46 93.55,374.16 93.99,374.81 94.43,374.8 94.87,374.8 95.31,374.72 95.75,374.84 96.19,375.27 96.63,375.07 97.07,375.16 97.51,375.41 97.95,375.58 98.39,375.55 98.83,375.79 99.27,375.81 99.71,375.83 100.15,376 100.62,376.05 101.09,376.19 101.56,376.07 102.03,376.15 102.5,376.29 102.97,376.26 103.44,376.22 103.91,376.28 104.38,376.36 104.85,376.3 105.32,376.4 105.78,376.39 106.25,376.4 106.72,376.4 107.19,376.55 107.7,376.4 108.2,376.4 108.7,376.4 109.2,376.4 109.71,376.4 110.21,376.4 110.71,376.4 111.22,376.6 111.22,376.4"/>
<line x1="77.53" y1="374.9" x2="77.53" y2="376.9" stroke="#a0a0a0" stroke-width="1"/>
<line x1="99.65" y1="374.9" x2="99.65" y2="376.9" stroke="#a0a0a0" stroke-width="1"/>
<line x1="121.78" y1="374.9" x2="121.78" y2="376.9" stroke="#a0a0a0" stroke-width="1"/>
<rect x="55.4" y="327.4" width="88.5" height="49" fill="none" stroke="#989898" stroke-width="1.2"/>
<clipPath id="c40"><rect x="54.4" y="327.7" width="90.5" height="51"/></clipPath>
<polyline clip-path="url(#c40)" fill="none" stroke="#111" stroke-width="1.6" stroke-linejoin="round" points="55.4,350.3 55.45,350.03 55.49,349.17 55.54,350.07 55.58,347.3 55.63,349.29 55.68,346.62 55.72,347.17 55.77,347.86 55.81,347.12 55.86,346.66 55.91,345.44 55.95,345.24 56,343.84 56.04,344 56.09,343.53 56.14,342.72 56.18,343.16 56.23,341.05 56.27,342.45 56.32,340.49 56.37,340.66 56.41,339.87 56.46,340.21 56.5,340.38 56.55,337.97 56.6,337.36 56.64,338.21 56.69,336.51 56.73,337.91 56.78,336.16 56.83,336.08 56.87,336.91 56.92,334.67 56.96,334.47 57.01,334.55 57.07,333.1 57.13,333.92 57.19,333.97 57.25,332.32 57.31,332.33 57.37,330.73 57.43,330.11 57.48,329.84 57.54,331.35 57.6,331.11 57.66,329.85 57.72,328.55 57.78,327.31 57.84,327.93 57.9,328.54 57.96,326.66 58.02,326.19 58.08,327.26 58.14,326.78 58.2,324.57 58.26,323.83 58.32,324.4 58.8,324.34 59.28,324.19 59.76,323.73 60.25,325.18 60.73,323.19 61.21,323.49 61.7,323.75 62.18,323.21 62.66,324.18 63.14,324.4 63.18,325.77 63.21,324.21 63.25,324.76 63.28,326.94 63.32,327.22 63.35,327.86 63.39,328.61 63.42,328.76 63.46,328.62 63.49,328.02 63.53,328.35 63.56,329.14 63.6,330.73 63.63,332.02 63.67,332.45 63.7,330.59 63.74,331.33 63.77,333.57 63.81,334.35 63.84,333.86 63.87,333.92 63.91,334.33 63.94,333.65 63.98,334.24 64.01,335.17 64.05,336.3 64.12,336.91 64.18,338.4 64.25,338.74 64.31,339.2 64.38,338.03 64.45,338.31 64.51,338.85 64.58,339.35 64.64,340.41 64.71,341.24 64.78,340.95 64.84,342.24 64.91,343.15 64.98,342.63 65.04,343.21 65.11,343.5 65.17,343.2 65.24,344.61 65.31,345.05 65.4,346.07 65.49,345.8 65.58,345.21 65.68,346.97 65.77,347.02 65.86,348.62 65.95,349.1 66.05,347.83 66.14,348.53 66.23,349.3 66.32,351.03 66.42,350.82 66.51,352.13 66.6,351.33 66.7,351.22 66.79,352.01 66.88,353.01 66.97,352.71 67.07,353.8 67.28,355.37 67.49,355.35 67.7,355.36 67.91,355.38 68.12,357.05 68.33,355.47 68.54,355.36 68.75,356.05 68.96,356.6 69.17,357.81 69.38,358.2 69.81,357.45 70.25,358.75 70.69,357.36 71.12,357.45 71.56,357.56 71.99,357.3 72.43,357.75 72.87,357.41 73.3,357.42 73.74,357.28 74.17,357.5 74.61,358.2 74.79,358.61 74.97,358.41 75.15,360.42 75.33,359.65 75.51,361.28 75.69,361.77 75.88,362.19 76.06,361.63 76.24,361.14 76.42,362.55 76.66,361.84 76.89,362.94 77.13,363.7 77.37,363.6 77.61,364.77 77.84,365.2 78.08,364.25 78.32,364.74 78.56,365.4 78.8,366.84 79.03,366.9 79.35,367.01 79.67,367.22 79.99,368.25 80.31,367.62 80.63,369.48 80.95,369.25 81.27,370 81.59,370.1 81.91,369.47 82.23,370.02 82.55,370.95 82.99,371.86 83.43,371.4 83.86,372.24 84.3,372.58 84.73,372.81 85.17,372.7 85.66,372.81 86.15,372.42 86.64,373.5 87.13,372.67 87.63,373.12 88.12,373.48 88.61,373.46 89.1,373.74 89.59,373.4 90.03,373.08 90.47,373.62 90.91,374.07 91.35,373.54 91.79,374.03 92.23,374.19 92.67,374.54 93.11,374.46 93.55,374.16 93.99,374.81 94.43,374.8 94.87,374.8 95.31,374.72 95.75,374.84 96.19,375.27 96.63,375.07 97.07,375.16 97.51,375.41 97.95,375.58 98.39,375.55 98.83,375.79 99.27,375.81 99.71,375.83 100.15,376 100.62,376.05 101.09,376.19 101.56,376.07 102.03,376.15 102.5,376.29 102.97,376.26 103.44,376.22 103.91,376.28 104.38,376.36 104.85,376.3 105.32,376.4 105.78,376.39 106.25,376.4 106.72,376.4 107.19,376.55 107.7,376.4 108.2,376.4 108.7,376.4 109.2,376.4 109.71,376.4 110.21,376.4 110.71,376.4 111.22,376.6"/>
<text x="117.7" y="347.2" font-size="10.3" text-anchor="middle" fill="#2a2a2a" stroke="#2a2a2a" stroke-width="0.2">4%</text>
<polygon fill="#111" points="187.46,376.4 187.46,371.65 187.46,371.65 187.94,372.25 188.43,372.09 188.92,372.22 189.4,371.86 189.89,371.24 190.38,372.1 190.86,372.31 191.35,371.96 191.83,371.65 192.32,371.51 192.81,371.33 193.29,371.8 193.78,370.98 194.26,371.5 194.75,370.97 195.24,371.21 195.72,371.19 196.21,371.65 196.65,371.52 197.09,371.38 197.54,372.11 197.98,372.8 198.42,372.73 198.86,372.65 199.31,372.93 199.75,372.45 200.19,372.38 200.63,373.05 201.07,372.92 201.51,373.52 201.95,373.15 202.39,373.79 202.83,373.39 203.27,373.94 203.71,374.06 204.15,374.46 204.59,373.66 205.03,374.41 205.47,374.43 205.91,374.45 206.38,374.28 206.85,374.54 207.32,374.28 207.79,374.87 208.26,375.16 208.73,375.29 209.2,374.92 209.67,375.32 210.14,375.22 210.61,375.23 211.08,375.38 211.54,375.51 212.01,375.47 212.48,375.49 212.95,375.7 213.42,375.65 213.88,375.65 214.34,375.75 214.81,375.87 215.27,375.81 215.73,375.92 216.19,375.98 216.66,375.92 217.12,376.02 217.58,376 218.05,375.99 218.51,376.24 218.97,376.16 219.44,376.27 219.9,376.37 220.36,376.38 220.83,376.37 221.29,376.34 221.75,376.4 222.26,376.4 222.76,376.4 223.26,376.4 223.76,376.4 224.27,376.4 224.77,376.4 225.27,376.4 225.78,376.6 225.78,376.4"/>
<line x1="181.52" y1="374.9" x2="181.52" y2="376.9" stroke="#a0a0a0" stroke-width="1"/>
<line x1="203.65" y1="374.9" x2="203.65" y2="376.9" stroke="#a0a0a0" stroke-width="1"/>
<line x1="225.78" y1="374.9" x2="225.78" y2="376.9" stroke="#a0a0a0" stroke-width="1"/>
<rect x="159.4" y="327.4" width="88.5" height="49" fill="none" stroke="#989898" stroke-width="1.2"/>
<clipPath id="c41"><rect x="158.4" y="327.7" width="90.5" height="51"/></clipPath>
<polyline clip-path="url(#c41)" fill="none" stroke="#111" stroke-width="1.6" stroke-linejoin="round" points="159.4,346.8 159.46,346.82 159.52,346.16 159.58,346.38 159.64,346.08 159.7,345.81 159.76,343.73 159.82,344.66 159.88,343.44 159.94,343.7 160,342.63 160.06,342.09 160.12,342.43 160.17,341.74 160.23,340.98 160.29,339.47 160.35,338.65 160.41,338.69 160.47,337.98 160.53,338.14 160.59,336.73 160.65,336.43 160.71,337.44 160.77,336.25 160.83,335.28 160.89,336.66 160.95,334.03 161.01,334.55 161.1,333.97 161.18,333.01 161.27,333.3 161.36,332.98 161.44,331.43 161.53,331.7 161.62,330.85 161.7,329.83 161.79,331.18 161.88,329.71 161.96,328.46 162.05,329.45 162.14,328.17 162.23,327.18 162.31,328.07 162.4,327.99 162.49,326.16 162.57,327.15 162.66,326.68 162.75,324.32 162.83,325.87 162.92,324.4 163.37,324.26 163.82,325.02 164.28,323.95 164.73,324.1 165.18,324.26 165.64,323.8 166.09,323.36 166.54,324.93 166.99,325.01 167.45,324.4 167.49,323.74 167.53,326.26 167.58,326.48 167.62,326.8 167.67,326.24 167.71,328.12 167.76,327.35 167.8,328.36 167.85,328.65 167.89,327.84 167.93,330.66 167.98,331.03 168.02,329.24 168.07,330.63 168.11,331.24 168.16,330.84 168.2,333.35 168.25,332.97 168.29,332.26 168.34,333.29 168.38,332.91 168.42,333.27 168.47,335.49 168.51,335.2 168.56,336.14 168.6,336.3 168.67,335.79 168.73,336.99 168.8,337.57 168.87,338.95 168.93,339.24 169,339.09 169.07,338.73 169.13,338.75 169.2,340.55 169.26,341.88 169.33,341.19 169.4,341.93 169.46,341.66 169.53,342.84 169.59,342.26 169.66,343.03 169.73,344.77 169.79,344.42 169.86,345.05 169.97,344.52 170.07,345.3 170.18,347.16 170.29,347.72 170.39,346.61 170.5,347.34 170.61,348.04 170.71,349.32 170.82,348.77 170.93,349.41 171.03,350.27 171.14,350.25 171.25,349.55 171.36,350.75 171.46,352.81 171.57,352.05 171.89,351.8 172.21,353.98 172.53,353.88 172.85,352.04 173.17,354.55 173.49,353.05 173.81,353.68 174.13,353.64 174.45,356.08 174.77,353.97 175.09,355.55 175.48,356.7 175.87,355.7 176.26,356.28 176.65,355.45 177.04,356.32 177.44,356.94 177.83,357.1 178.22,357.98 178.61,358.2 178.85,358.52 179.09,359.49 179.34,360 179.58,360.98 179.82,360.28 180.06,361.73 180.3,362.19 180.55,360.22 180.79,362.93 181.03,362.01 181.27,362.55 181.48,363.43 181.68,362.21 181.89,363.54 182.09,363.51 182.3,364.7 182.5,365.37 182.71,366.55 182.91,366.11 183.12,367.22 183.32,365.86 183.53,367.31 183.73,368.05 183.94,367.8 184.26,368.25 184.58,368.42 184.9,369.23 185.22,368.71 185.54,370.01 185.86,370.46 186.18,370.76 186.5,370.61 186.82,370.43 187.14,371.36 187.46,371.65 187.94,372.25 188.43,372.09 188.92,372.22 189.4,371.86 189.89,371.24 190.38,372.1 190.86,372.31 191.35,371.96 191.83,371.65 192.32,371.51 192.81,371.33 193.29,371.8 193.78,370.98 194.26,371.5 194.75,370.97 195.24,371.21 195.72,371.19 196.21,371.65 196.65,371.52 197.09,371.38 197.54,372.11 197.98,372.8 198.42,372.73 198.86,372.65 199.31,372.93 199.75,372.45 200.19,372.38 200.63,373.05 201.07,372.92 201.51,373.52 201.95,373.15 202.39,373.79 202.83,373.39 203.27,373.94 203.71,374.06 204.15,374.46 204.59,373.66 205.03,374.41 205.47,374.43 205.91,374.45 206.38,374.28 206.85,374.54 207.32,374.28 207.79,374.87 208.26,375.16 208.73,375.29 209.2,374.92 209.67,375.32 210.14,375.22 210.61,375.23 211.08,375.38 211.54,375.51 212.01,375.47 212.48,375.49 212.95,375.7 213.42,375.65 213.88,375.65 214.34,375.75 214.81,375.87 215.27,375.81 215.73,375.92 216.19,375.98 216.66,375.92 217.12,376.02 217.58,376 218.05,375.99 218.51,376.24 218.97,376.16 219.44,376.27 219.9,376.37 220.36,376.38 220.83,376.37 221.29,376.34 221.75,376.4 222.26,376.4 222.76,376.4 223.26,376.4 223.76,376.4 224.27,376.4 224.77,376.4 225.27,376.4 225.78,376.6"/>
<text x="223.7" y="347.3" font-size="10.3" text-anchor="middle" fill="#2a2a2a" stroke="#2a2a2a" stroke-width="0.2">7%</text>
<polygon fill="#111" points="292.17,376.4 292.17,372.2 292.17,372.2 292.52,372.14 292.87,371.05 293.22,371.54 293.56,370.91 293.91,370.82 294.26,369.88 294.61,370.21 294.96,369.65 295.31,369.64 295.66,369.2 296.05,369.65 296.44,369.56 296.83,368 297.22,367.87 297.6,368.19 297.99,368.23 298.38,367.1 298.77,367.82 299.16,366.9 299.69,367.34 300.22,366.86 300.75,367.51 301.28,365.85 301.81,366.9 302.24,366.75 302.68,367.43 303.12,367.42 303.55,368.21 303.99,367.9 304.43,367.52 304.86,368.32 305.3,368.7 305.74,369.63 306.17,368.52 306.6,370.13 307.04,369.01 307.47,369.3 307.91,370.61 308.34,370.23 308.78,370.37 309.21,370.9 309.65,370.95 310.09,371.01 310.53,371.02 310.96,371.68 311.4,371.82 311.84,371.62 312.28,372.8 312.72,372.23 313.16,373.23 313.6,372.55 314.04,373.05 314.48,373.43 314.92,373.22 315.35,373.62 315.79,373.13 316.23,373.81 316.66,373.82 317.1,373.81 317.54,374.49 317.97,374.29 318.41,374.48 318.85,375.02 319.29,374.8 319.75,374.95 320.22,375.25 320.68,374.62 321.15,375.11 321.62,375.51 322.08,375.21 322.55,375.41 323.01,375.35 323.48,375.54 323.95,375.6 324.41,375.67 324.88,375.66 325.35,375.7 325.81,375.68 326.28,375.85 326.74,375.82 327.2,375.78 327.66,375.9 328.12,376.11 328.58,376.14 329.04,376.16 329.5,376.03 329.96,376.16 330.42,376.17 330.88,376.08 331.34,376.09 331.8,376.08 332.26,376.25 332.72,376.22 333.18,376.21 333.64,376.4 334.1,376.4 334.56,376.23 335.02,376.4 335.52,376.4 336.02,376.4 336.52,376.4 337.02,376.37 337.51,376.4 338.01,376.4 338.51,376.4 339.01,376.6 339.01,376.4"/>
<line x1="284.57" y1="374.9" x2="284.57" y2="376.9" stroke="#a0a0a0" stroke-width="1"/>
<line x1="306.55" y1="374.9" x2="306.55" y2="376.9" stroke="#a0a0a0" stroke-width="1"/>
<line x1="328.52" y1="374.9" x2="328.52" y2="376.9" stroke="#a0a0a0" stroke-width="1"/>
<rect x="262.6" y="327.4" width="87.9" height="49" fill="none" stroke="#989898" stroke-width="1.2"/>
<clipPath id="c42"><rect x="261.6" y="327.7" width="89.9" height="51"/></clipPath>
<polyline clip-path="url(#c42)" fill="none" stroke="#111" stroke-width="1.6" stroke-linejoin="round" points="262.6,366.9 262.71,365.81 262.82,367.08 262.93,365.5 263.03,364.5 263.14,364.35 263.25,364.23 263.36,363.1 263.47,363.39 263.58,363.15 263.69,361.76 263.79,361.78 263.9,361.88 264.01,359.96 264.12,359.51 264.23,358.83 264.34,360.03 264.45,359.63 264.55,359.5 264.66,358.21 264.77,357.45 264.88,358.59 264.99,355.64 265.1,356.4 265.21,357.06 265.31,355.3 265.42,354.96 265.53,355.72 265.64,353.18 265.75,352.7 265.85,352.06 265.96,353.84 266.07,352.2 266.18,352.1 266.29,352.21 266.4,350.74 266.5,349.84 266.61,349.12 266.72,349.31 266.83,349.71 266.94,349.98 267.04,348.3 267.15,349.11 267.26,347.42 267.37,346.05 267.48,346.5 267.59,345.25 267.69,345.9 268.32,346.36 268.94,345.9 269.04,346.52 269.14,346 269.24,347.91 269.34,348.88 269.44,347.56 269.54,347.48 269.64,350.12 269.74,350.11 269.84,349.11 269.94,349.73 270.04,351.5 270.14,349.93 270.24,351.86 270.34,352.05 270.47,352.23 270.59,352.83 270.72,352.55 270.84,354.38 270.97,353.77 271.09,354.48 271.22,354.19 271.34,356.45 271.46,354.72 271.59,355.93 271.71,358.12 271.84,356.6 271.96,358.53 272.09,358.2 272.33,359.54 272.56,357.97 272.8,358.92 273.03,360.51 273.27,360.56 273.51,359.79 273.74,360.32 273.98,361.46 274.21,362.74 274.45,361.02 274.69,362.55 275.05,362.49 275.42,361.96 275.78,363.51 276.15,364.22 276.52,363.85 276.88,364.73 277.25,364.54 277.62,364.38 277.98,365.69 278.35,364.89 278.71,365.09 279.08,366.05 279.48,366.24 279.89,366.87 280.29,365.88 280.69,366.87 281.1,367.55 281.5,367.11 281.9,367.97 282.31,367.83 282.71,368.62 283.12,367.71 283.52,368.68 283.92,369.81 284.33,369.2 284.76,369.54 285.2,370.05 285.64,369.57 286.07,370.27 286.51,370.5 286.95,370.52 287.38,369.97 287.82,370.89 288.26,371.59 288.7,371.6 289.13,371.05 289.57,371.65 290.09,371.3 290.61,372.42 291.13,371.99 291.65,371.54 292.17,372.2 292.52,372.14 292.87,371.05 293.22,371.54 293.56,370.91 293.91,370.82 294.26,369.88 294.61,370.21 294.96,369.65 295.31,369.64 295.66,369.2 296.05,369.65 296.44,369.56 296.83,368 297.22,367.87 297.6,368.19 297.99,368.23 298.38,367.1 298.77,367.82 299.16,366.9 299.69,367.34 300.22,366.86 300.75,367.51 301.28,365.85 301.81,366.9 302.24,366.75 302.68,367.43 303.12,367.42 303.55,368.21 303.99,367.9 304.43,367.52 304.86,368.32 305.3,368.7 305.74,369.63 306.17,368.52 306.6,370.13 307.04,369.01 307.47,369.3 307.91,370.61 308.34,370.23 308.78,370.37 309.21,370.9 309.65,370.95 310.09,371.01 310.53,371.02 310.96,371.68 311.4,371.82 311.84,371.62 312.28,372.8 312.72,372.23 313.16,373.23 313.6,372.55 314.04,373.05 314.48,373.43 314.92,373.22 315.35,373.62 315.79,373.13 316.23,373.81 316.66,373.82 317.1,373.81 317.54,374.49 317.97,374.29 318.41,374.48 318.85,375.02 319.29,374.8 319.75,374.95 320.22,375.25 320.68,374.62 321.15,375.11 321.62,375.51 322.08,375.21 322.55,375.41 323.01,375.35 323.48,375.54 323.95,375.6 324.41,375.67 324.88,375.66 325.35,375.7 325.81,375.68 326.28,375.85 326.74,375.82 327.2,375.78 327.66,375.9 328.12,376.11 328.58,376.14 329.04,376.16 329.5,376.03 329.96,376.16 330.42,376.17 330.88,376.08 331.34,376.09 331.8,376.08 332.26,376.25 332.72,376.22 333.18,376.21 333.64,376.4 334.1,376.4 334.56,376.23 335.02,376.4 335.52,376.4 336.02,376.4 336.52,376.4 337.02,376.37 337.51,376.4 338.01,376.4 338.51,376.4 339.01,376.6"/>
<text x="325" y="347.4" font-size="10.3" text-anchor="middle" fill="#2a2a2a" stroke="#2a2a2a" stroke-width="0.2" textLength="18.6" lengthAdjust="spacingAndGlyphs">27%</text>
<polygon fill="#111" points="393.67,376.4 393.67,373.9 393.67,373.9 394.11,373.88 394.56,373.83 395.01,373.44 395.45,373.46 395.9,373.25 396.34,373.86 396.79,373.83 397.24,373.43 397.68,372.6 398.13,373.05 398.53,372.58 398.93,372.61 399.33,372.82 399.73,372.22 400.13,371.97 400.53,371.85 400.93,370.7 401.33,371.42 401.74,370.66 402.14,370.82 402.54,370.4 402.98,370 403.42,369.67 403.87,369.2 404.31,369.11 404.75,370.35 405.2,369.63 405.64,370.13 406.09,369.9 406.53,369.38 406.97,368.96 407.42,369.56 407.86,368.7 408.3,369.06 408.75,369.4 409.19,367.85 409.63,367.52 410.08,367.68 410.52,367.9 410.96,367.29 411.41,367.69 411.85,367.76 412.29,367.27 412.74,368.13 413.18,367.45 413.58,367.33 413.98,367.46 414.38,366.45 414.78,366.45 415.18,365.34 415.59,365.56 415.99,365.42 416.39,366.18 416.79,366.3 417.19,364.31 417.59,365.2 418.04,365.99 418.48,364.2 418.93,363.73 419.37,363.49 419.82,364.77 420.27,364.46 420.71,362.72 421.16,363.53 421.6,364.16 422.05,363.4 422.43,362.51 422.8,365.15 423.18,365.12 423.56,364.88 423.93,366 424.31,364.28 424.69,365.7 425.13,364.9 425.58,366.1 426.02,366.28 426.47,365.99 426.92,366.62 427.36,367.34 427.81,367.47 428.25,366.88 428.7,366.63 429.15,367.8 429.59,367.46 430.03,367.11 430.48,367.55 430.92,368.17 431.36,368.9 431.81,368.53 432.25,368.34 432.69,369.51 433.14,368.7 433.58,369.08 434.02,368.85 434.47,369.2 434.85,368.83 435.23,369.23 435.61,369.19 435.99,370.62 436.37,370.44 436.75,369.97 437.13,371.32 437.51,370.51 437.89,370.93 438.27,372.35 438.65,372.04 439.03,372.18 439.41,372.01 439.79,372.7 440.23,373.34 440.68,373.4 441.12,373.24 441.56,373.15 442.01,373.15 442.45,373.38 442.89,373.51 443.34,374.08 443.78,374.17 444.22,374.37 444.67,374.19 445.11,374.56 445.55,374.3 446,375.12 446.44,374.98 446.88,375.15 447.33,375.24 447.77,375.21 448.21,375.43 448.66,375.38 449.1,375.53 449.54,375.77 449.99,375.91 450.43,375.91 450.88,376.03 451.32,376.01 451.76,376.2 452.21,376.11 452.65,376.21 453.09,376.4 453.54,376.4 453.98,376.55 453.98,376.4"/>
<line x1="388.6" y1="374.9" x2="388.6" y2="376.9" stroke="#a0a0a0" stroke-width="1"/>
<line x1="410.9" y1="374.9" x2="410.9" y2="376.9" stroke="#a0a0a0" stroke-width="1"/>
<line x1="433.2" y1="374.9" x2="433.2" y2="376.9" stroke="#a0a0a0" stroke-width="1"/>
<rect x="366.3" y="327.4" width="89.2" height="49" fill="none" stroke="#989898" stroke-width="1.2"/>
<clipPath id="c43"><rect x="365.3" y="327.7" width="91.2" height="51"/></clipPath>
<polyline clip-path="url(#c43)" fill="none" stroke="#111" stroke-width="1.6" stroke-linejoin="round" points="366.3,375.15 366.64,374.72 366.99,374.22 367.33,374.42 367.68,373.31 368.02,372.91 368.37,373.51 368.71,372.31 369.06,372.5 369.4,372.05 369.75,371.65 370.15,371.85 370.55,371.32 370.95,370.53 371.35,370.14 371.75,370.6 372.15,370.37 372.55,369.95 372.95,370.32 373.35,368.88 373.75,370.24 374.16,369.2 374.6,369.54 375.04,369.68 375.49,369.33 375.93,369.65 376.37,369.67 376.82,370.31 377.26,370.53 377.7,369.9 378.15,369.94 378.59,369.48 379.03,370.66 379.48,371.14 379.92,370.28 380.36,371.11 380.81,370.96 381.25,371.08 381.69,371.85 382.14,371.02 382.58,371.44 383.03,371.65 383.47,372.07 383.91,372.17 384.36,371.39 384.8,372.26 385.24,372.67 385.69,372.6 386.13,372.97 386.57,372.16 387.02,373.16 387.46,373.3 387.9,373.31 388.35,373.05 388.83,372.86 389.31,372.71 389.8,373.31 390.28,373.46 390.77,373.22 391.25,373.08 391.73,373.62 392.22,373.51 392.7,373.29 393.18,373.78 393.67,373.9 394.11,373.88 394.56,373.83 395.01,373.44 395.45,373.46 395.9,373.25 396.34,373.86 396.79,373.83 397.24,373.43 397.68,372.6 398.13,373.05 398.53,372.58 398.93,372.61 399.33,372.82 399.73,372.22 400.13,371.97 400.53,371.85 400.93,370.7 401.33,371.42 401.74,370.66 402.14,370.82 402.54,370.4 402.98,370 403.42,369.67 403.87,369.2 404.31,369.11 404.75,370.35 405.2,369.63 405.64,370.13 406.09,369.9 406.53,369.38 406.97,368.96 407.42,369.56 407.86,368.7 408.3,369.06 408.75,369.4 409.19,367.85 409.63,367.52 410.08,367.68 410.52,367.9 410.96,367.29 411.41,367.69 411.85,367.76 412.29,367.27 412.74,368.13 413.18,367.45 413.58,367.33 413.98,367.46 414.38,366.45 414.78,366.45 415.18,365.34 415.59,365.56 415.99,365.42 416.39,366.18 416.79,366.3 417.19,364.31 417.59,365.2 418.04,365.99 418.48,364.2 418.93,363.73 419.37,363.49 419.82,364.77 420.27,364.46 420.71,362.72 421.16,363.53 421.6,364.16 422.05,363.4 422.43,362.51 422.8,365.15 423.18,365.12 423.56,364.88 423.93,366 424.31,364.28 424.69,365.7 425.13,364.9 425.58,366.1 426.02,366.28 426.47,365.99 426.92,366.62 427.36,367.34 427.81,367.47 428.25,366.88 428.7,366.63 429.15,367.8 429.59,367.46 430.03,367.11 430.48,367.55 430.92,368.17 431.36,368.9 431.81,368.53 432.25,368.34 432.69,369.51 433.14,368.7 433.58,369.08 434.02,368.85 434.47,369.2 434.85,368.83 435.23,369.23 435.61,369.19 435.99,370.62 436.37,370.44 436.75,369.97 437.13,371.32 437.51,370.51 437.89,370.93 438.27,372.35 438.65,372.04 439.03,372.18 439.41,372.01 439.79,372.7 440.23,373.34 440.68,373.4 441.12,373.24 441.56,373.15 442.01,373.15 442.45,373.38 442.89,373.51 443.34,374.08 443.78,374.17 444.22,374.37 444.67,374.19 445.11,374.56 445.55,374.3 446,375.12 446.44,374.98 446.88,375.15 447.33,375.24 447.77,375.21 448.21,375.43 448.66,375.38 449.1,375.53 449.54,375.77 449.99,375.91 450.43,375.91 450.88,376.03 451.32,376.01 451.76,376.2 452.21,376.11 452.65,376.21 453.09,376.4 453.54,376.4 453.98,376.55"/>
<text x="429.7" y="347.4" font-size="10.3" text-anchor="middle" fill="#2a2a2a" stroke="#2a2a2a" stroke-width="0.2" textLength="18.6" lengthAdjust="spacingAndGlyphs">62%</text>
<text x="55.5" y="385.6" font-size="8.5" text-anchor="middle" fill="#1a1a1a" stroke="#1a1a1a" stroke-width="0.18">10</text>
<text x="60.4" y="382.4" font-size="5.2" fill="#1a1a1a" stroke="#1a1a1a" stroke-width="0.18">0</text>
<text x="77.47" y="385.6" font-size="8.5" text-anchor="middle" fill="#1a1a1a" stroke="#1a1a1a" stroke-width="0.18">10</text>
<text x="82.38" y="382.4" font-size="5.2" fill="#1a1a1a" stroke="#1a1a1a" stroke-width="0.18">1</text>
<text x="99.45" y="385.6" font-size="8.5" text-anchor="middle" fill="#1a1a1a" stroke="#1a1a1a" stroke-width="0.18">10</text>
<text x="104.35" y="382.4" font-size="5.2" fill="#1a1a1a" stroke="#1a1a1a" stroke-width="0.18">2</text>
<text x="121.43" y="385.6" font-size="8.5" text-anchor="middle" fill="#1a1a1a" stroke="#1a1a1a" stroke-width="0.18">10</text>
<text x="126.33" y="382.4" font-size="5.2" fill="#1a1a1a" stroke="#1a1a1a" stroke-width="0.18">3</text>
<text x="143.4" y="385.6" font-size="8.5" text-anchor="middle" fill="#1a1a1a" stroke="#1a1a1a" stroke-width="0.18">10</text>
<text x="148.3" y="382.4" font-size="5.2" fill="#1a1a1a" stroke="#1a1a1a" stroke-width="0.18">4</text>
<text x="158.3" y="385.6" font-size="8.5" text-anchor="middle" fill="#1a1a1a" stroke="#1a1a1a" stroke-width="0.18">10</text>
<text x="163.2" y="382.4" font-size="5.2" fill="#1a1a1a" stroke="#1a1a1a" stroke-width="0.18">0</text>
<text x="180.38" y="385.6" font-size="8.5" text-anchor="middle" fill="#1a1a1a" stroke="#1a1a1a" stroke-width="0.18">10</text>
<text x="185.28" y="382.4" font-size="5.2" fill="#1a1a1a" stroke="#1a1a1a" stroke-width="0.18">1</text>
<text x="202.45" y="385.6" font-size="8.5" text-anchor="middle" fill="#1a1a1a" stroke="#1a1a1a" stroke-width="0.18">10</text>
<text x="207.35" y="382.4" font-size="5.2" fill="#1a1a1a" stroke="#1a1a1a" stroke-width="0.18">2</text>
<text x="224.53" y="385.6" font-size="8.5" text-anchor="middle" fill="#1a1a1a" stroke="#1a1a1a" stroke-width="0.18">10</text>
<text x="229.43" y="382.4" font-size="5.2" fill="#1a1a1a" stroke="#1a1a1a" stroke-width="0.18">3</text>
<text x="246.6" y="385.6" font-size="8.5" text-anchor="middle" fill="#1a1a1a" stroke="#1a1a1a" stroke-width="0.18">10</text>
<text x="251.5" y="382.4" font-size="5.2" fill="#1a1a1a" stroke="#1a1a1a" stroke-width="0.18">4</text>
<text x="261.6" y="385.6" font-size="8.5" text-anchor="middle" fill="#1a1a1a" stroke="#1a1a1a" stroke-width="0.18">10</text>
<text x="266.5" y="382.4" font-size="5.2" fill="#1a1a1a" stroke="#1a1a1a" stroke-width="0.18">0</text>
<text x="283.43" y="385.6" font-size="8.5" text-anchor="middle" fill="#1a1a1a" stroke="#1a1a1a" stroke-width="0.18">10</text>
<text x="288.32" y="382.4" font-size="5.2" fill="#1a1a1a" stroke="#1a1a1a" stroke-width="0.18">1</text>
<text x="305.25" y="385.6" font-size="8.5" text-anchor="middle" fill="#1a1a1a" stroke="#1a1a1a" stroke-width="0.18">10</text>
<text x="310.15" y="382.4" font-size="5.2" fill="#1a1a1a" stroke="#1a1a1a" stroke-width="0.18">2</text>
<text x="327.07" y="385.6" font-size="8.5" text-anchor="middle" fill="#1a1a1a" stroke="#1a1a1a" stroke-width="0.18">10</text>
<text x="331.97" y="382.4" font-size="5.2" fill="#1a1a1a" stroke="#1a1a1a" stroke-width="0.18">3</text>
<text x="348.9" y="385.6" font-size="8.5" text-anchor="middle" fill="#1a1a1a" stroke="#1a1a1a" stroke-width="0.18">10</text>
<text x="353.8" y="382.4" font-size="5.2" fill="#1a1a1a" stroke="#1a1a1a" stroke-width="0.18">4</text>
<text x="366.8" y="385.6" font-size="8.5" text-anchor="middle" fill="#1a1a1a" stroke="#1a1a1a" stroke-width="0.18">10</text>
<text x="371.7" y="382.4" font-size="5.2" fill="#1a1a1a" stroke="#1a1a1a" stroke-width="0.18">0</text>
<text x="388.43" y="385.6" font-size="8.5" text-anchor="middle" fill="#1a1a1a" stroke="#1a1a1a" stroke-width="0.18">10</text>
<text x="393.32" y="382.4" font-size="5.2" fill="#1a1a1a" stroke="#1a1a1a" stroke-width="0.18">1</text>
<text x="410.05" y="385.6" font-size="8.5" text-anchor="middle" fill="#1a1a1a" stroke="#1a1a1a" stroke-width="0.18">10</text>
<text x="414.95" y="382.4" font-size="5.2" fill="#1a1a1a" stroke="#1a1a1a" stroke-width="0.18">2</text>
<text x="431.68" y="385.6" font-size="8.5" text-anchor="middle" fill="#1a1a1a" stroke="#1a1a1a" stroke-width="0.18">10</text>
<text x="436.57" y="382.4" font-size="5.2" fill="#1a1a1a" stroke="#1a1a1a" stroke-width="0.18">3</text>
<text x="453.3" y="385.6" font-size="8.5" text-anchor="middle" fill="#1a1a1a" stroke="#1a1a1a" stroke-width="0.18">10</text>
<text x="458.2" y="382.4" font-size="5.2" fill="#1a1a1a" stroke="#1a1a1a" stroke-width="0.18">4</text>
<text x="466.6" y="110.1" font-size="11" fill="#1a1a1a" stroke="#1a1a1a" stroke-width="0.18" textLength="53.6" lengthAdjust="spacingAndGlyphs">Plasma 2%</text>
<line x1="469.9" y1="150.5" x2="469.9" y2="364.8" stroke="#444" stroke-width="1.7"/>
<text transform="translate(489.3,286.5) rotate(-90)" font-size="11.6" fill="#1a1a1a" stroke="#1a1a1a" stroke-width="0.18">Albumin 0.1%</text>
<text x="246.2" y="401.6" font-size="12" fill="#1a1a1a" stroke="#1a1a1a" stroke-width="0.18">FL-1</text>
<line x1="58" y1="410.6" x2="143.2" y2="410.6" stroke="#333" stroke-width="1.5"/>
<text x="101.9" y="423.6" font-size="12" text-anchor="middle" fill="#1a1a1a" stroke="#1a1a1a" stroke-width="0.18">0</text>
<line x1="159.2" y1="410.6" x2="244.6" y2="410.6" stroke="#333" stroke-width="1.5"/>
<text x="200.3" y="423.6" font-size="12" text-anchor="middle" fill="#1a1a1a" stroke="#1a1a1a" stroke-width="0.18">5</text>
<line x1="264.2" y1="410.6" x2="349.5" y2="410.6" stroke="#333" stroke-width="1.5"/>
<text x="302.9" y="423.6" font-size="12" text-anchor="middle" fill="#1a1a1a" stroke="#1a1a1a" stroke-width="0.18">10</text>
<line x1="369.2" y1="410.6" x2="457.8" y2="410.6" stroke="#333" stroke-width="1.5"/>
<text x="417.7" y="423.6" font-size="12" text-anchor="middle" fill="#1a1a1a" stroke="#1a1a1a" stroke-width="0.18">20</text>
<text x="466" y="423.6" font-size="12" fill="#1a1a1a" stroke="#1a1a1a" stroke-width="0.18">min</text>
<text x="69.3" y="455.4" font-size="17.6" font-weight="bold" fill="#000" textLength="11.2" lengthAdjust="spacingAndGlyphs">B</text>
<line x1="125.4" y1="468.8" x2="125.4" y2="629.7" stroke="#000" stroke-width="1.8"/>
<line x1="124.5" y1="628.8" x2="291" y2="628.8" stroke="#000" stroke-width="1.8"/>
<line x1="121.2" y1="628.8" x2="125.4" y2="628.8" stroke="#000" stroke-width="1.6"/>
<text x="118.8" y="633.3" font-size="12.4" font-weight="bold" text-anchor="end" fill="#000" stroke="#000" stroke-width="0.25" textLength="5.5" lengthAdjust="spacingAndGlyphs">0</text>
<line x1="121.2" y1="598.1" x2="125.4" y2="598.1" stroke="#000" stroke-width="1.6"/>
<text x="118.8" y="602.6" font-size="12.4" font-weight="bold" text-anchor="end" fill="#000" stroke="#000" stroke-width="0.25" textLength="11.1" lengthAdjust="spacingAndGlyphs">50</text>
<line x1="121.2" y1="567.4" x2="125.4" y2="567.4" stroke="#000" stroke-width="1.6"/>
<text x="118.8" y="571.9" font-size="12.4" font-weight="bold" text-anchor="end" fill="#000" stroke="#000" stroke-width="0.25" textLength="16.6" lengthAdjust="spacingAndGlyphs">100</text>
<line x1="121.2" y1="536.7" x2="125.4" y2="536.7" stroke="#000" stroke-width="1.6"/>
<text x="118.8" y="541.2" font-size="12.4" font-weight="bold" text-anchor="end" fill="#000" stroke="#000" stroke-width="0.25" textLength="16.6" lengthAdjust="spacingAndGlyphs">150</text>
<line x1="121.2" y1="506" x2="125.4" y2="506" stroke="#000" stroke-width="1.6"/>
<text x="118.8" y="510.5" font-size="12.4" font-weight="bold" text-anchor="end" fill="#000" stroke="#000" stroke-width="0.25" textLength="16.6" lengthAdjust="spacingAndGlyphs">200</text>
<line x1="121.2" y1="475.3" x2="125.4" y2="475.3" stroke="#000" stroke-width="1.6"/>
<text x="118.8" y="479.8" font-size="12.4" font-weight="bold" text-anchor="end" fill="#000" stroke="#000" stroke-width="0.25" textLength="16.6" lengthAdjust="spacingAndGlyphs">250</text>
<line x1="125.4" y1="628.8" x2="125.4" y2="634.3" stroke="#000" stroke-width="1.6"/>
<text x="125.4" y="647" font-size="11.5" font-weight="bold" text-anchor="middle" fill="#000" stroke="#000" stroke-width="0.25">0</text>
<line x1="165" y1="628.8" x2="165" y2="634.3" stroke="#000" stroke-width="1.6"/>
<text x="165" y="647" font-size="11.5" font-weight="bold" text-anchor="middle" fill="#000" stroke="#000" stroke-width="0.25">5</text>
<line x1="204.6" y1="628.8" x2="204.6" y2="634.3" stroke="#000" stroke-width="1.6"/>
<text x="204.6" y="647" font-size="11.5" font-weight="bold" text-anchor="middle" fill="#000" stroke="#000" stroke-width="0.25">10</text>
<line x1="244.2" y1="628.8" x2="244.2" y2="634.3" stroke="#000" stroke-width="1.6"/>
<text x="244.2" y="647" font-size="11.5" font-weight="bold" text-anchor="middle" fill="#000" stroke="#000" stroke-width="0.25">15</text>
<line x1="283.8" y1="628.8" x2="283.8" y2="634.3" stroke="#000" stroke-width="1.6"/>
<text x="283.8" y="647" font-size="11.5" font-weight="bold" text-anchor="middle" fill="#000" stroke="#000" stroke-width="0.25">20</text>
<text x="209" y="664.5" font-size="12.2" font-weight="bold" text-anchor="middle" fill="#000" stroke="#000" stroke-width="0.25">Time (min)</text>
<text transform="translate(94.2,621.7) rotate(-90)" font-size="13" font-weight="bold" fill="#000" stroke="#000" stroke-width="0.25" textLength="147" lengthAdjust="spacingAndGlyphs">Phagocytic index (a.u.)</text>
<polyline fill="none" stroke="#333" stroke-width="1" points="125.4,628.49 165,628.19 204.6,627.88 283.8,627.88"/>
<polyline fill="none" stroke="#333" stroke-width="1" points="125.4,628.19 165,626.96 204.6,615.29 283.8,526.26"/>
<polyline fill="none" stroke="#333" stroke-width="1" points="125.4,627.57 165,620.82 204.6,596.87 283.8,531.79"/>
<polyline fill="none" stroke="#333" stroke-width="1" points="125.4,627.88 165,625.12 204.6,610.38 283.8,473.46"/>
<polyline fill="none" stroke="#333" stroke-width="1" points="125.4,627.57 165,615.91 204.6,577.22 283.8,528.72"/>
<rect x="161.9" y="625.59" width="6.2" height="3.8" fill="#fff" stroke="#000" stroke-width="1.4"/>
<rect x="201.5" y="625.28" width="6.2" height="3.8" fill="#fff" stroke="#000" stroke-width="1.4"/>
<rect x="280.7" y="625.28" width="6.2" height="3.8" fill="#fff" stroke="#000" stroke-width="1.4"/>
<rect x="162" y="623.96" width="6" height="6" fill="#000"/>
<rect x="201.6" y="612.29" width="6" height="6" fill="#000"/>
<rect x="280.8" y="523.26" width="6" height="6" fill="#000"/>
<circle cx="165" cy="620.82" r="3" fill="#fff" stroke="#000" stroke-width="1.5"/>
<circle cx="204.6" cy="596.87" r="3" fill="#fff" stroke="#000" stroke-width="1.5"/>
<circle cx="283.8" cy="531.79" r="3" fill="#fff" stroke="#000" stroke-width="1.5"/>
<polygon points="165,621.62 168.3,625.12 165,628.62 161.7,625.12" fill="#fff" stroke="#000" stroke-width="1.4"/>
<polygon points="204.6,606.88 207.9,610.38 204.6,613.88 201.3,610.38" fill="#fff" stroke="#000" stroke-width="1.4"/>
<polygon points="283.8,469.96 287.1,473.46 283.8,476.96 280.5,473.46" fill="#fff" stroke="#000" stroke-width="1.4"/>
<polygon points="165,611.91 161.2,618.91 168.8,618.91" fill="#000"/>
<polygon points="204.6,573.22 200.8,580.22 208.4,580.22" fill="#000"/>
<polygon points="283.8,524.72 280,531.72 287.6,531.72" fill="#000"/>
<polygon points="121.9,629 125.8,625.4 129.8,629" fill="#999" stroke="#000" stroke-width="1.7" stroke-linejoin="round"/>
<line x1="321.5" y1="464.6" x2="342" y2="464.6" stroke="#000" stroke-width="1.5"/>
<rect x="328.7" y="461.6" width="6" height="6" fill="#000"/>
<text x="346" y="468.6" font-size="10.7" font-weight="bold" fill="#000" stroke="#000" stroke-width="0.2">no sMD-2</text>
<line x1="321.5" y1="487" x2="342" y2="487" stroke="#000" stroke-width="1.5"/>
<circle cx="331.7" cy="487" r="3" fill="#fff" stroke="#000" stroke-width="1.5"/>
<text x="346" y="491" font-size="10.7" font-weight="bold" fill="#000" stroke="#000" stroke-width="0.2">sMD2 10 µg/mL</text>
<line x1="321.5" y1="507.7" x2="342" y2="507.7" stroke="#000" stroke-width="1.5"/>
<polygon points="331.7,503.7 327.9,510.7 335.5,510.7" fill="#000"/>
<text x="346" y="511.7" font-size="10.7" font-weight="bold" fill="#000" stroke="#000" stroke-width="0.2">sMD2 20 µg/mL</text>
<line x1="321.5" y1="524.6" x2="342" y2="524.6" stroke="#000" stroke-width="1.5"/>
<polygon points="331.7,521.1 335,524.6 331.7,528.1 328.4,524.6" fill="#fff" stroke="#000" stroke-width="1.4"/>
<text x="346" y="528.6" font-size="10.7" font-weight="bold" fill="#000" stroke="#000" stroke-width="0.2">human plasma 2 %</text>
<line x1="321.5" y1="544.6" x2="342" y2="544.6" stroke="#000" stroke-width="1.5"/>
<rect x="328.6" y="542" width="6.2" height="5.2" fill="#fff" stroke="#000" stroke-width="1.4"/>
<text x="346" y="548.6" font-size="10.7" font-weight="bold" fill="#000" stroke="#000" stroke-width="0.2">sMD2 10 µg/mL+</text>
<text x="346" y="562.2" font-size="10.7" font-weight="bold" fill="#000" stroke="#000" stroke-width="0.2">cytochalasin</text>
</svg>
</body></html>
